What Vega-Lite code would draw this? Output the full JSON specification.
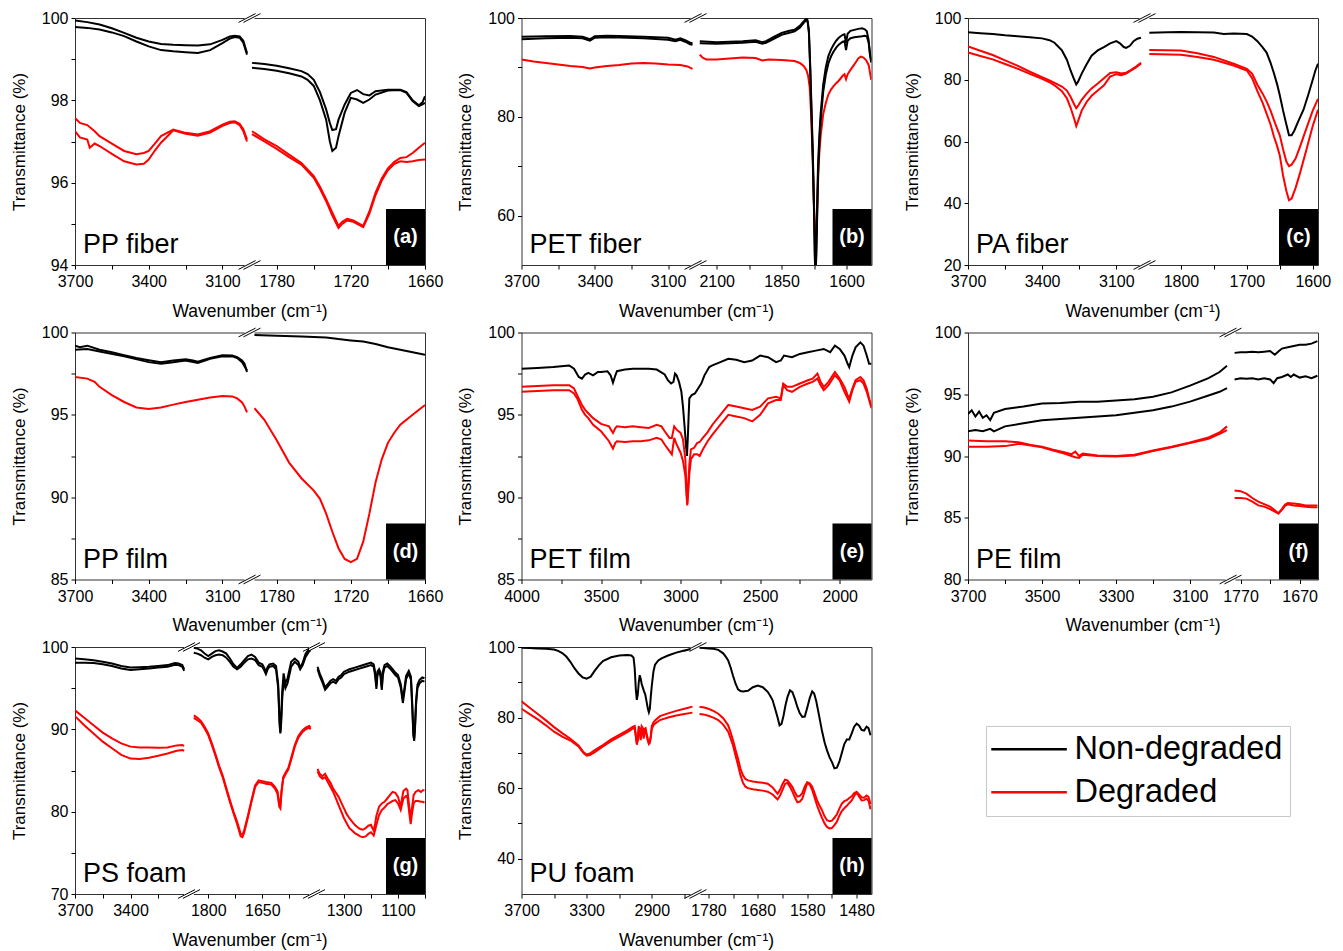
{
"$schema":"https://vega.github.io/schema/vega-lite/v6.json",
"padding":{"left":9,"top":9,"right":0,"bottom":0},
"config":{
 "font":"Liberation Sans",
 "view":{"stroke":"#333","strokeWidth":1},
 "axis":{"labelFont":"Liberation Sans","titleFont":"Liberation Sans","labelFontSize":16,"titleFontSize":17,"titleFontWeight":"normal","labelColor":"#000","titleColor":"#000","tickColor":"#000","tickSize":4,"tickWidth":1,"domain":false,"grid":false,"labelFlush":false,"labelOverlap":false,"labelPadding":3},
 "axisX":{"labelPadding":4.5},
 "axisY":{"titlePadding":13},
 "title":{"font":"Liberation Sans","fontSize":17.5,"fontWeight":"normal","color":"#000"},
 "text":{"font":"Liberation Sans","color":"#000"}
},
"resolve":{"scale":{"stroke":"independent"}},
"columns":3,
"spacing":{"row":67.5,"column":96.5},
"bounds":"flush",
"concat":[
{"width":350,"height":247,"title":{"text":"Wavenumber (cm⁻¹)","orient":"bottom","anchor":"middle","offset":13},
 "resolve":{"scale":{"x":"independent"},"axis":{"x":"independent"}},
 "layer":[
  {"layer":[
   {"data":{"name":"a1"},"mark":{"type":"line","strokeWidth":2,"clip":true},"encoding":{
     "x":{"field":"w","type":"quantitative","scale":{"domain":[3700,3000],"range":[0,172],"nice":false,"zero":false},"axis":{"orient":"bottom","title":null,"format":"d","values":[3700,3550,3400,3250,3100],"labelExpr":"(3700-datum.value)%300==0?datum.label:''"}},
     "y":{"field":"t","type":"quantitative","scale":{"domain":[94,100],"nice":false,"zero":false},"axis":{"title":"Transmittance (%)","format":"d","values":[94,95,96,97,98,99,100],"labelExpr":"datum.value%2==0?datum.label:''"}},
     "stroke":{"field":"c","type":"nominal","scale":{"domain":["N1","N2","D1","D2"],"range":["#000000","#000000","#ff0000","#ff0000"]},"legend":null}}},
   {"data":{"values":[{}]},"mark":{"type":"point","shape":"M-1,-0.6H1V0.6H-1Z","size":100,"filled":true,"fill":"#fff","strokeWidth":0,"opacity":1,"xOffset":2.5},"encoding":{"x":{"datum":3000},"y":{"datum":100}}},
   {"data":{"values":[{}]},"mark":{"type":"point","shape":"M-1,-0.6H1V0.6H-1Z","size":100,"filled":true,"fill":"#fff","strokeWidth":0,"opacity":1,"xOffset":2.5},"encoding":{"x":{"datum":3000},"y":{"datum":94}}},
   {"data":{"values":[{}]},"mark":{"type":"point","shape":"M-1,0.4L0.55,-0.4M-0.55,0.4L1,-0.4","size":484,"filled":false,"stroke":"#000","strokeWidth":1,"opacity":1,"xOffset":2.5},"encoding":{"x":{"datum":3000},"y":{"datum":100}}},
   {"data":{"values":[{}]},"mark":{"type":"point","shape":"M-1,0.4L0.55,-0.4M-0.55,0.4L1,-0.4","size":484,"filled":false,"stroke":"#000","strokeWidth":1,"opacity":1,"xOffset":2.5},"encoding":{"x":{"datum":3000},"y":{"datum":94}}},
   {"data":{"values":[{}]},"mark":{"type":"text","text":"PP fiber","align":"left","baseline":"alphabetic","dx":8,"dy":-12,"fontSize":27},"encoding":{"x":{"datum":3700},"y":{"datum":94}}}
  ]},
  {"layer":[
   {"data":{"name":"a2"},"mark":{"type":"line","strokeWidth":2,"clip":true},"encoding":{
     "x":{"field":"w","type":"quantitative","scale":{"domain":[1800,1660],"range":[177,350],"nice":false,"zero":false},"axis":{"orient":"bottom","title":null,"format":"d","values":[1780,1750,1720,1690,1660],"labelExpr":"(1780-datum.value)%60==0?datum.label:''"}},
     "y":{"field":"t","type":"quantitative","scale":{"domain":[94,100],"nice":false,"zero":false},"axis":{"title":"Transmittance (%)","format":"d","values":[94,95,96,97,98,99,100],"labelExpr":"datum.value%2==0?datum.label:''"}},
     "stroke":{"field":"c","type":"nominal","scale":{"domain":["N1","N2","D1","D2"],"range":["#000000","#000000","#ff0000","#ff0000"]},"legend":null}}},
   {"data":{"values":[{}]},"mark":{"type":"point","shape":"M0,0H-1.393V-2H0Z","size":3136,"filled":true,"fill":"#000","strokeWidth":0,"opacity":1},"encoding":{"x":{"datum":1660},"y":{"datum":94}}},
   {"data":{"values":[{}]},"mark":{"type":"text","text":"(a)","align":"center","baseline":"middle","dx":-19.5,"dy":-28,"fill":"#fff","fontSize":20,"fontWeight":"bold"},"encoding":{"x":{"datum":1660},"y":{"datum":94}}}
  ]}
 ]},
{"width":350,"height":247,"title":{"text":"Wavenumber (cm⁻¹)","orient":"bottom","anchor":"middle","offset":13},
 "resolve":{"scale":{"x":"independent"},"axis":{"x":"independent"}},
 "layer":[
  {"layer":[
   {"data":{"name":"b1"},"mark":{"type":"line","strokeWidth":2,"clip":true},"encoding":{
     "x":{"field":"w","type":"quantitative","scale":{"domain":[3700,3000],"range":[0,171],"nice":false,"zero":false},"axis":{"orient":"bottom","title":null,"format":"d","values":[3700,3550,3400,3250,3100],"labelExpr":"(3700-datum.value)%300==0?datum.label:''"}},
     "y":{"field":"t","type":"quantitative","scale":{"domain":[50,100],"nice":false,"zero":false},"axis":{"title":"Transmittance (%)","format":"d","values":[60,70,80,90,100],"labelExpr":"datum.value%20==0?datum.label:''"}},
     "stroke":{"field":"c","type":"nominal","scale":{"domain":["N1","N2","D1","D2"],"range":["#000000","#000000","#ff0000","#ff0000"]},"legend":null}}},
   {"data":{"values":[{}]},"mark":{"type":"point","shape":"M-1,-0.6H1V0.6H-1Z","size":100,"filled":true,"fill":"#fff","strokeWidth":0,"opacity":1,"xOffset":3},"encoding":{"x":{"datum":3000},"y":{"datum":100}}},
   {"data":{"values":[{}]},"mark":{"type":"point","shape":"M-1,-0.6H1V0.6H-1Z","size":100,"filled":true,"fill":"#fff","strokeWidth":0,"opacity":1,"xOffset":3},"encoding":{"x":{"datum":3000},"y":{"datum":50}}},
   {"data":{"values":[{}]},"mark":{"type":"point","shape":"M-1,0.4L0.55,-0.4M-0.55,0.4L1,-0.4","size":484,"filled":false,"stroke":"#000","strokeWidth":1,"opacity":1,"xOffset":3},"encoding":{"x":{"datum":3000},"y":{"datum":100}}},
   {"data":{"values":[{}]},"mark":{"type":"point","shape":"M-1,0.4L0.55,-0.4M-0.55,0.4L1,-0.4","size":484,"filled":false,"stroke":"#000","strokeWidth":1,"opacity":1,"xOffset":3},"encoding":{"x":{"datum":3000},"y":{"datum":50}}},
   {"data":{"values":[{}]},"mark":{"type":"text","text":"PET fiber","align":"left","baseline":"alphabetic","dx":8,"dy":-12,"fontSize":27},"encoding":{"x":{"datum":3700},"y":{"datum":50}}}
  ]},
  {"layer":[
   {"data":{"name":"b2"},"mark":{"type":"line","strokeWidth":2,"clip":true},"encoding":{
     "x":{"field":"w","type":"quantitative","scale":{"domain":[2170,1504],"range":[177,350],"nice":false,"zero":false},"axis":{"orient":"bottom","title":null,"format":"d","values":[2100,1975,1850,1725,1600],"labelExpr":"(2100-datum.value)%250==0?datum.label:''"}},
     "y":{"field":"t","type":"quantitative","scale":{"domain":[50,100],"nice":false,"zero":false},"axis":{"title":"Transmittance (%)","format":"d","values":[60,70,80,90,100],"labelExpr":"datum.value%20==0?datum.label:''"}},
     "stroke":{"field":"c","type":"nominal","scale":{"domain":["N1","N2","D1","D2"],"range":["#000000","#000000","#ff0000","#ff0000"]},"legend":null}}},
   {"data":{"values":[{}]},"mark":{"type":"point","shape":"M0,0H-1.393V-2H0Z","size":3136,"filled":true,"fill":"#000","strokeWidth":0,"opacity":1},"encoding":{"x":{"datum":1504},"y":{"datum":50}}},
   {"data":{"values":[{}]},"mark":{"type":"text","text":"(b)","align":"center","baseline":"middle","dx":-19.5,"dy":-28,"fill":"#fff","fontSize":20,"fontWeight":"bold"},"encoding":{"x":{"datum":1504},"y":{"datum":50}}}
  ]}
 ]},
{"width":350,"height":247,"title":{"text":"Wavenumber (cm⁻¹)","orient":"bottom","anchor":"middle","offset":13},
 "resolve":{"scale":{"x":"independent"},"axis":{"x":"independent"}},
 "layer":[
  {"layer":[
   {"data":{"name":"c1"},"mark":{"type":"line","strokeWidth":2,"clip":true},"encoding":{
     "x":{"field":"w","type":"quantitative","scale":{"domain":[3700,3000],"range":[0,173],"nice":false,"zero":false},"axis":{"orient":"bottom","title":null,"format":"d","values":[3700,3550,3400,3250,3100],"labelExpr":"(3700-datum.value)%300==0?datum.label:''"}},
     "y":{"field":"t","type":"quantitative","scale":{"domain":[20,100],"nice":false,"zero":false},"axis":{"title":"Transmittance (%)","format":"d","values":[20,30,40,50,60,70,80,90,100],"labelExpr":"datum.value%20==0?datum.label:''"}},
     "stroke":{"field":"c","type":"nominal","scale":{"domain":["N1","N2","D1","D2"],"range":["#000000","#000000","#ff0000","#ff0000"]},"legend":null}}},
   {"data":{"values":[{}]},"mark":{"type":"point","shape":"M-1,-0.6H1V0.6H-1Z","size":100,"filled":true,"fill":"#fff","strokeWidth":0,"opacity":1,"xOffset":3.5},"encoding":{"x":{"datum":3000},"y":{"datum":100}}},
   {"data":{"values":[{}]},"mark":{"type":"point","shape":"M-1,-0.6H1V0.6H-1Z","size":100,"filled":true,"fill":"#fff","strokeWidth":0,"opacity":1,"xOffset":3.5},"encoding":{"x":{"datum":3000},"y":{"datum":20}}},
   {"data":{"values":[{}]},"mark":{"type":"point","shape":"M-1,0.4L0.55,-0.4M-0.55,0.4L1,-0.4","size":484,"filled":false,"stroke":"#000","strokeWidth":1,"opacity":1,"xOffset":3.5},"encoding":{"x":{"datum":3000},"y":{"datum":100}}},
   {"data":{"values":[{}]},"mark":{"type":"point","shape":"M-1,0.4L0.55,-0.4M-0.55,0.4L1,-0.4","size":484,"filled":false,"stroke":"#000","strokeWidth":1,"opacity":1,"xOffset":3.5},"encoding":{"x":{"datum":3000},"y":{"datum":20}}},
   {"data":{"values":[{}]},"mark":{"type":"text","text":"PA fiber","align":"left","baseline":"alphabetic","dx":8,"dy":-12,"fontSize":27},"encoding":{"x":{"datum":3700},"y":{"datum":20}}}
  ]},
  {"layer":[
   {"data":{"name":"c2"},"mark":{"type":"line","strokeWidth":2,"clip":true},"encoding":{
     "x":{"field":"w","type":"quantitative","scale":{"domain":[1850,1592],"range":[180,350],"nice":false,"zero":false},"axis":{"orient":"bottom","title":null,"format":"d","values":[1800,1750,1700,1650,1600],"labelExpr":"datum.value%100==0?datum.label:''"}},
     "y":{"field":"t","type":"quantitative","scale":{"domain":[20,100],"nice":false,"zero":false},"axis":{"title":"Transmittance (%)","format":"d","values":[20,30,40,50,60,70,80,90,100],"labelExpr":"datum.value%20==0?datum.label:''"}},
     "stroke":{"field":"c","type":"nominal","scale":{"domain":["N1","N2","D1","D2"],"range":["#000000","#000000","#ff0000","#ff0000"]},"legend":null}}},
   {"data":{"values":[{}]},"mark":{"type":"point","shape":"M0,0H-1.393V-2H0Z","size":3136,"filled":true,"fill":"#000","strokeWidth":0,"opacity":1},"encoding":{"x":{"datum":1592},"y":{"datum":20}}},
   {"data":{"values":[{}]},"mark":{"type":"text","text":"(c)","align":"center","baseline":"middle","dx":-19.5,"dy":-28,"fill":"#fff","fontSize":20,"fontWeight":"bold"},"encoding":{"x":{"datum":1592},"y":{"datum":20}}}
  ]}
 ]},
{"width":350,"height":247,"title":{"text":"Wavenumber (cm⁻¹)","orient":"bottom","anchor":"middle","offset":13},
 "resolve":{"scale":{"x":"independent"},"axis":{"x":"independent"}},
 "layer":[
  {"layer":[
   {"data":{"name":"d1"},"mark":{"type":"line","strokeWidth":2,"clip":true},"encoding":{
     "x":{"field":"w","type":"quantitative","scale":{"domain":[3700,3000],"range":[0,172],"nice":false,"zero":false},"axis":{"orient":"bottom","title":null,"format":"d","values":[3700,3550,3400,3250,3100],"labelExpr":"(3700-datum.value)%300==0?datum.label:''"}},
     "y":{"field":"t","type":"quantitative","scale":{"domain":[85,100],"nice":false,"zero":false},"axis":{"title":"Transmittance (%)","format":"d","values":[85,87.5,90,92.5,95,97.5,100],"labelExpr":"datum.value%5==0?datum.label:''"}},
     "stroke":{"field":"c","type":"nominal","scale":{"domain":["N1","N2","D1","D2"],"range":["#000000","#000000","#ff0000","#ff0000"]},"legend":null}}},
   {"data":{"values":[{}]},"mark":{"type":"point","shape":"M-1,-0.6H1V0.6H-1Z","size":100,"filled":true,"fill":"#fff","strokeWidth":0,"opacity":1,"xOffset":2.5},"encoding":{"x":{"datum":3000},"y":{"datum":100}}},
   {"data":{"values":[{}]},"mark":{"type":"point","shape":"M-1,-0.6H1V0.6H-1Z","size":100,"filled":true,"fill":"#fff","strokeWidth":0,"opacity":1,"xOffset":2.5},"encoding":{"x":{"datum":3000},"y":{"datum":85}}},
   {"data":{"values":[{}]},"mark":{"type":"point","shape":"M-1,0.4L0.55,-0.4M-0.55,0.4L1,-0.4","size":484,"filled":false,"stroke":"#000","strokeWidth":1,"opacity":1,"xOffset":2.5},"encoding":{"x":{"datum":3000},"y":{"datum":100}}},
   {"data":{"values":[{}]},"mark":{"type":"point","shape":"M-1,0.4L0.55,-0.4M-0.55,0.4L1,-0.4","size":484,"filled":false,"stroke":"#000","strokeWidth":1,"opacity":1,"xOffset":2.5},"encoding":{"x":{"datum":3000},"y":{"datum":85}}},
   {"data":{"values":[{}]},"mark":{"type":"text","text":"PP film","align":"left","baseline":"alphabetic","dx":8,"dy":-12,"fontSize":27},"encoding":{"x":{"datum":3700},"y":{"datum":85}}}
  ]},
  {"layer":[
   {"data":{"name":"d2"},"mark":{"type":"line","strokeWidth":2,"clip":true},"encoding":{
     "x":{"field":"w","type":"quantitative","scale":{"domain":[1800,1660],"range":[177,350],"nice":false,"zero":false},"axis":{"orient":"bottom","title":null,"format":"d","values":[1780,1750,1720,1690,1660],"labelExpr":"(1780-datum.value)%60==0?datum.label:''"}},
     "y":{"field":"t","type":"quantitative","scale":{"domain":[85,100],"nice":false,"zero":false},"axis":{"title":"Transmittance (%)","format":"d","values":[85,87.5,90,92.5,95,97.5,100],"labelExpr":"datum.value%5==0?datum.label:''"}},
     "stroke":{"field":"c","type":"nominal","scale":{"domain":["N1","N2","D1","D2"],"range":["#000000","#000000","#ff0000","#ff0000"]},"legend":null}}},
   {"data":{"values":[{}]},"mark":{"type":"point","shape":"M0,0H-1.393V-2H0Z","size":3136,"filled":true,"fill":"#000","strokeWidth":0,"opacity":1},"encoding":{"x":{"datum":1660},"y":{"datum":85}}},
   {"data":{"values":[{}]},"mark":{"type":"text","text":"(d)","align":"center","baseline":"middle","dx":-19.5,"dy":-28,"fill":"#fff","fontSize":20,"fontWeight":"bold"},"encoding":{"x":{"datum":1660},"y":{"datum":85}}}
  ]}
 ]},
{"width":350,"height":247,"title":{"text":"Wavenumber (cm⁻¹)","orient":"bottom","anchor":"middle","offset":13},
 "layer":[
   {"data":{"name":"e"},"mark":{"type":"line","strokeWidth":2,"clip":true},"encoding":{
     "x":{"field":"w","type":"quantitative","scale":{"domain":[4000,1800],"nice":false,"zero":false},"axis":{"orient":"bottom","title":null,"format":"d","values":[4000,3750,3500,3250,3000,2750,2500,2250,2000],"labelExpr":"datum.value%500==0?datum.label:''"}},
     "y":{"field":"t","type":"quantitative","scale":{"domain":[85,100],"nice":false,"zero":false},"axis":{"title":"Transmittance (%)","format":"d","values":[85,87.5,90,92.5,95,97.5,100],"labelExpr":"datum.value%5==0?datum.label:''"}},
     "stroke":{"field":"c","type":"nominal","scale":{"domain":["N1","N2","D1","D2"],"range":["#000000","#000000","#ff0000","#ff0000"]},"legend":null}}},
   {"data":{"values":[{}]},"mark":{"type":"text","text":"PET film","align":"left","baseline":"alphabetic","dx":8,"dy":-12,"fontSize":27},"encoding":{"x":{"datum":4000},"y":{"datum":85}}},
   {"data":{"values":[{}]},"mark":{"type":"point","shape":"M0,0H-1.393V-2H0Z","size":3136,"filled":true,"fill":"#000","strokeWidth":0,"opacity":1},"encoding":{"x":{"datum":1800},"y":{"datum":85}}},
   {"data":{"values":[{}]},"mark":{"type":"text","text":"(e)","align":"center","baseline":"middle","dx":-19.5,"dy":-28,"fill":"#fff","fontSize":20,"fontWeight":"bold"},"encoding":{"x":{"datum":1800},"y":{"datum":85}}}
 ]},
{"width":350,"height":247,"title":{"text":"Wavenumber (cm⁻¹)","orient":"bottom","anchor":"middle","offset":13},
 "resolve":{"scale":{"x":"independent"},"axis":{"x":"independent"}},
 "layer":[
  {"layer":[
   {"data":{"name":"f1"},"mark":{"type":"line","strokeWidth":2,"clip":true},"encoding":{
     "x":{"field":"w","type":"quantitative","scale":{"domain":[3700,3000],"range":[0,259],"nice":false,"zero":false},"axis":{"orient":"bottom","title":null,"format":"d","values":[3700,3600,3500,3400,3300,3200,3100],"labelExpr":"(3700-datum.value)%200==0?datum.label:''"}},
     "y":{"field":"t","type":"quantitative","scale":{"domain":[80,100],"nice":false,"zero":false},"axis":{"title":"Transmittance (%)","format":"d","values":[80,82.5,85,87.5,90,92.5,95,97.5,100],"labelExpr":"datum.value%5==0?datum.label:''"}},
     "stroke":{"field":"c","type":"nominal","scale":{"domain":["N1","N2","D1","D2"],"range":["#000000","#000000","#ff0000","#ff0000"]},"legend":null}}},
   {"data":{"values":[{}]},"mark":{"type":"point","shape":"M-1,-0.6H1V0.6H-1Z","size":100,"filled":true,"fill":"#fff","strokeWidth":0,"opacity":1,"xOffset":3.5},"encoding":{"x":{"datum":3000},"y":{"datum":100}}},
   {"data":{"values":[{}]},"mark":{"type":"point","shape":"M-1,-0.6H1V0.6H-1Z","size":100,"filled":true,"fill":"#fff","strokeWidth":0,"opacity":1,"xOffset":3.5},"encoding":{"x":{"datum":3000},"y":{"datum":80}}},
   {"data":{"values":[{}]},"mark":{"type":"point","shape":"M-1,0.4L0.55,-0.4M-0.55,0.4L1,-0.4","size":484,"filled":false,"stroke":"#000","strokeWidth":1,"opacity":1,"xOffset":3.5},"encoding":{"x":{"datum":3000},"y":{"datum":100}}},
   {"data":{"values":[{}]},"mark":{"type":"point","shape":"M-1,0.4L0.55,-0.4M-0.55,0.4L1,-0.4","size":484,"filled":false,"stroke":"#000","strokeWidth":1,"opacity":1,"xOffset":3.5},"encoding":{"x":{"datum":3000},"y":{"datum":80}}},
   {"data":{"values":[{}]},"mark":{"type":"text","text":"PE film","align":"left","baseline":"alphabetic","dx":8,"dy":-12,"fontSize":27},"encoding":{"x":{"datum":3700},"y":{"datum":80}}}
  ]},
  {"layer":[
   {"data":{"name":"f2"},"mark":{"type":"line","strokeWidth":2,"clip":true},"encoding":{
     "x":{"field":"w","type":"quantitative","scale":{"domain":[1781,1639],"range":[266,350],"nice":false,"zero":false},"axis":{"orient":"bottom","title":null,"format":"d","values":[1770,1720,1670],"labelExpr":"(1770-datum.value)%100==0?datum.label:''"}},
     "y":{"field":"t","type":"quantitative","scale":{"domain":[80,100],"nice":false,"zero":false},"axis":{"title":"Transmittance (%)","format":"d","values":[80,82.5,85,87.5,90,92.5,95,97.5,100],"labelExpr":"datum.value%5==0?datum.label:''"}},
     "stroke":{"field":"c","type":"nominal","scale":{"domain":["N1","N2","D1","D2"],"range":["#000000","#000000","#ff0000","#ff0000"]},"legend":null}}},
   {"data":{"values":[{}]},"mark":{"type":"point","shape":"M0,0H-1.393V-2H0Z","size":3136,"filled":true,"fill":"#000","strokeWidth":0,"opacity":1},"encoding":{"x":{"datum":1639},"y":{"datum":80}}},
   {"data":{"values":[{}]},"mark":{"type":"text","text":"(f)","align":"center","baseline":"middle","dx":-19.5,"dy":-28,"fill":"#fff","fontSize":20,"fontWeight":"bold"},"encoding":{"x":{"datum":1639},"y":{"datum":80}}}
  ]}
 ]},
{"width":350,"height":247,"title":{"text":"Wavenumber (cm⁻¹)","orient":"bottom","anchor":"middle","offset":13},
 "resolve":{"scale":{"x":"independent"},"axis":{"x":"independent"}},
 "layer":[
  {"layer":[
   {"data":{"name":"g1"},"mark":{"type":"line","strokeWidth":2,"clip":true},"encoding":{
     "x":{"field":"w","type":"quantitative","scale":{"domain":[3700,3100],"range":[0,111],"nice":false,"zero":false},"axis":{"orient":"bottom","title":null,"format":"d","values":[3700,3550,3400,3250],"labelExpr":"(3700-datum.value)%300==0?datum.label:''"}},
     "y":{"field":"t","type":"quantitative","scale":{"domain":[70,100],"nice":false,"zero":false},"axis":{"title":"Transmittance (%)","format":"d","values":[70,75,80,85,90,95,100],"labelExpr":"datum.value%10==0?datum.label:''"}},
     "stroke":{"field":"c","type":"nominal","scale":{"domain":["N1","N2","D1","D2"],"range":["#000000","#000000","#ff0000","#ff0000"]},"legend":null}}},
   {"data":{"values":[{}]},"mark":{"type":"point","shape":"M-1,-0.6H1V0.6H-1Z","size":100,"filled":true,"fill":"#fff","strokeWidth":0,"opacity":1,"xOffset":3},"encoding":{"x":{"datum":3100},"y":{"datum":100}}},
   {"data":{"values":[{}]},"mark":{"type":"point","shape":"M-1,-0.6H1V0.6H-1Z","size":100,"filled":true,"fill":"#fff","strokeWidth":0,"opacity":1,"xOffset":3},"encoding":{"x":{"datum":3100},"y":{"datum":70}}},
   {"data":{"values":[{}]},"mark":{"type":"point","shape":"M-1,0.4L0.55,-0.4M-0.55,0.4L1,-0.4","size":484,"filled":false,"stroke":"#000","strokeWidth":1,"opacity":1,"xOffset":3},"encoding":{"x":{"datum":3100},"y":{"datum":100}}},
   {"data":{"values":[{}]},"mark":{"type":"point","shape":"M-1,0.4L0.55,-0.4M-0.55,0.4L1,-0.4","size":484,"filled":false,"stroke":"#000","strokeWidth":1,"opacity":1,"xOffset":3},"encoding":{"x":{"datum":3100},"y":{"datum":70}}},
   {"data":{"values":[{}]},"mark":{"type":"text","text":"PS foam","align":"left","baseline":"alphabetic","dx":8,"dy":-12,"fontSize":27},"encoding":{"x":{"datum":3700},"y":{"datum":70}}}
  ]},
  {"layer":[
   {"data":{"name":"g2"},"mark":{"type":"line","strokeWidth":2,"clip":true},"encoding":{
     "x":{"field":"w","type":"quantitative","scale":{"domain":[1845,1515],"range":[117,236],"nice":false,"zero":false},"axis":{"orient":"bottom","title":null,"format":"d","values":[1800,1725,1650,1575],"labelExpr":"(1800-datum.value)%150==0?datum.label:''"}},
     "y":{"field":"t","type":"quantitative","scale":{"domain":[70,100],"nice":false,"zero":false},"axis":{"title":"Transmittance (%)","format":"d","values":[70,75,80,85,90,95,100],"labelExpr":"datum.value%10==0?datum.label:''"}},
     "stroke":{"field":"c","type":"nominal","scale":{"domain":["N1","N2","D1","D2"],"range":["#000000","#000000","#ff0000","#ff0000"]},"legend":null}}},
   {"data":{"values":[{}]},"mark":{"type":"point","shape":"M-1,-0.6H1V0.6H-1Z","size":100,"filled":true,"fill":"#fff","strokeWidth":0,"opacity":1,"xOffset":3},"encoding":{"x":{"datum":1515},"y":{"datum":100}}},
   {"data":{"values":[{}]},"mark":{"type":"point","shape":"M-1,-0.6H1V0.6H-1Z","size":100,"filled":true,"fill":"#fff","strokeWidth":0,"opacity":1,"xOffset":3},"encoding":{"x":{"datum":1515},"y":{"datum":70}}},
   {"data":{"values":[{}]},"mark":{"type":"point","shape":"M-1,0.4L0.55,-0.4M-0.55,0.4L1,-0.4","size":484,"filled":false,"stroke":"#000","strokeWidth":1,"opacity":1,"xOffset":3},"encoding":{"x":{"datum":1515},"y":{"datum":100}}},
   {"data":{"values":[{}]},"mark":{"type":"point","shape":"M-1,0.4L0.55,-0.4M-0.55,0.4L1,-0.4","size":484,"filled":false,"stroke":"#000","strokeWidth":1,"opacity":1,"xOffset":3},"encoding":{"x":{"datum":1515},"y":{"datum":70}}}
  ]},
  {"layer":[
   {"data":{"name":"g3"},"mark":{"type":"line","strokeWidth":2,"clip":true},"encoding":{
     "x":{"field":"w","type":"quantitative","scale":{"domain":[1400,1000],"range":[242,350],"nice":false,"zero":false},"axis":{"orient":"bottom","title":null,"format":"d","values":[1300,1200,1100,1000],"labelExpr":"(1300-datum.value)%200==0?datum.label:''"}},
     "y":{"field":"t","type":"quantitative","scale":{"domain":[70,100],"nice":false,"zero":false},"axis":{"title":"Transmittance (%)","format":"d","values":[70,75,80,85,90,95,100],"labelExpr":"datum.value%10==0?datum.label:''"}},
     "stroke":{"field":"c","type":"nominal","scale":{"domain":["N1","N2","D1","D2"],"range":["#000000","#000000","#ff0000","#ff0000"]},"legend":null}}},
   {"data":{"values":[{}]},"mark":{"type":"point","shape":"M0,0H-1.393V-2H0Z","size":3136,"filled":true,"fill":"#000","strokeWidth":0,"opacity":1},"encoding":{"x":{"datum":1000},"y":{"datum":70}}},
   {"data":{"values":[{}]},"mark":{"type":"text","text":"(g)","align":"center","baseline":"middle","dx":-19.5,"dy":-28,"fill":"#fff","fontSize":20,"fontWeight":"bold"},"encoding":{"x":{"datum":1000},"y":{"datum":70}}}
  ]}
 ]},
{"width":350,"height":247,"title":{"text":"Wavenumber (cm⁻¹)","orient":"bottom","anchor":"middle","offset":13},
 "resolve":{"scale":{"x":"independent"},"axis":{"x":"independent"}},
 "layer":[
  {"layer":[
   {"data":{"name":"h1"},"mark":{"type":"line","strokeWidth":2,"clip":true},"encoding":{
     "x":{"field":"w","type":"quantitative","scale":{"domain":[3700,2650],"range":[0,171],"nice":false,"zero":false},"axis":{"orient":"bottom","title":null,"format":"d","values":[3700,3500,3300,3100,2900,2700],"labelExpr":"(3700-datum.value)%400==0?datum.label:''"}},
     "y":{"field":"t","type":"quantitative","scale":{"domain":[30,100],"nice":false,"zero":false},"axis":{"title":"Transmittance (%)","format":"d","values":[40,50,60,70,80,90,100],"labelExpr":"datum.value%20==0?datum.label:''"}},
     "stroke":{"field":"c","type":"nominal","scale":{"domain":["N1","N2","D1","D2"],"range":["#000000","#000000","#ff0000","#ff0000"]},"legend":null}}},
   {"data":{"values":[{}]},"mark":{"type":"point","shape":"M-1,-0.6H1V0.6H-1Z","size":100,"filled":true,"fill":"#fff","strokeWidth":0,"opacity":1,"xOffset":3},"encoding":{"x":{"datum":2650},"y":{"datum":100}}},
   {"data":{"values":[{}]},"mark":{"type":"point","shape":"M-1,-0.6H1V0.6H-1Z","size":100,"filled":true,"fill":"#fff","strokeWidth":0,"opacity":1,"xOffset":3},"encoding":{"x":{"datum":2650},"y":{"datum":30}}},
   {"data":{"values":[{}]},"mark":{"type":"point","shape":"M-1,0.4L0.55,-0.4M-0.55,0.4L1,-0.4","size":484,"filled":false,"stroke":"#000","strokeWidth":1,"opacity":1,"xOffset":3},"encoding":{"x":{"datum":2650},"y":{"datum":100}}},
   {"data":{"values":[{}]},"mark":{"type":"point","shape":"M-1,0.4L0.55,-0.4M-0.55,0.4L1,-0.4","size":484,"filled":false,"stroke":"#000","strokeWidth":1,"opacity":1,"xOffset":3},"encoding":{"x":{"datum":2650},"y":{"datum":30}}},
   {"data":{"values":[{}]},"mark":{"type":"text","text":"PU foam","align":"left","baseline":"alphabetic","dx":8,"dy":-12,"fontSize":27},"encoding":{"x":{"datum":3700},"y":{"datum":30}}}
  ]},
  {"layer":[
   {"data":{"name":"h2"},"mark":{"type":"line","strokeWidth":2,"clip":true},"encoding":{
     "x":{"field":"w","type":"quantitative","scale":{"domain":[1800,1450],"range":[177,350],"nice":false,"zero":false},"axis":{"orient":"bottom","title":null,"format":"d","values":[1780,1730,1680,1630,1580,1530,1480],"labelExpr":"(1780-datum.value)%100==0?datum.label:''"}},
     "y":{"field":"t","type":"quantitative","scale":{"domain":[30,100],"nice":false,"zero":false},"axis":{"title":"Transmittance (%)","format":"d","values":[40,50,60,70,80,90,100],"labelExpr":"datum.value%20==0?datum.label:''"}},
     "stroke":{"field":"c","type":"nominal","scale":{"domain":["N1","N2","D1","D2"],"range":["#000000","#000000","#ff0000","#ff0000"]},"legend":null}}},
   {"data":{"values":[{}]},"mark":{"type":"point","shape":"M0,0H-1.393V-2H0Z","size":3136,"filled":true,"fill":"#000","strokeWidth":0,"opacity":1},"encoding":{"x":{"datum":1450},"y":{"datum":30}}},
   {"data":{"values":[{}]},"mark":{"type":"text","text":"(h)","align":"center","baseline":"middle","dx":-19.5,"dy":-28,"fill":"#fff","fontSize":20,"fontWeight":"bold"},"encoding":{"x":{"datum":1450},"y":{"datum":30}}}
  ]}
 ]},
{"width":350,"height":187,
 "view":{"stroke":null},
 "data":{"values":[{"k":"Non-degraded"},{"k":"Degraded"}]},
 "mark":{"type":"line","strokeWidth":2.5},
 "encoding":{
   "x":{"datum":0,"axis":null},
   "y":{"datum":0,"axis":null},
   "stroke":{"field":"k","type":"nominal","scale":{"domain":["Non-degraded","Degraded"],"range":["#000000","#ff0000"]},
     "legend":{"orient":"bottom-left","offset":18,"title":null,"labelFontSize":32.5,"labelFont":"Liberation Sans","labelColor":"#000","symbolType":"M-2,0H6.4","symbolSize":324,"symbolStrokeWidth":2.5,"labelOffset":49,"rowPadding":10,"padding":7,"strokeColor":"#c8c8c8","labelLimit":0}}
 }}
],
"datasets":{
"a1":[
{"c":"N1","w":3700,"t":99.94},{"c":"N1","w":3650,"t":99.9},{"c":"N1","w":3600,"t":99.84},{"c":"N1","w":3550,"t":99.75},{"c":"N1","w":3500,"t":99.64},{"c":"N1","w":3450,"t":99.52},{"c":"N1","w":3400,"t":99.43},{"c":"N1","w":3350,"t":99.37},{"c":"N1","w":3300,"t":99.35},{"c":"N1","w":3250,"t":99.34},{"c":"N1","w":3200,"t":99.33},{"c":"N1","w":3150,"t":99.36},{"c":"N1","w":3100,"t":99.47},{"c":"N1","w":3070,"t":99.55},{"c":"N1","w":3050,"t":99.57},{"c":"N1","w":3030,"t":99.55},{"c":"N1","w":3015,"t":99.45},{"c":"N1","w":3000,"t":99.15},
{"c":"N2","w":3700,"t":99.78},{"c":"N2","w":3650,"t":99.76},{"c":"N2","w":3600,"t":99.72},{"c":"N2","w":3550,"t":99.65},{"c":"N2","w":3500,"t":99.56},{"c":"N2","w":3450,"t":99.43},{"c":"N2","w":3400,"t":99.31},{"c":"N2","w":3350,"t":99.22},{"c":"N2","w":3300,"t":99.19},{"c":"N2","w":3250,"t":99.17},{"c":"N2","w":3200,"t":99.15},{"c":"N2","w":3150,"t":99.22},{"c":"N2","w":3100,"t":99.39},{"c":"N2","w":3070,"t":99.5},{"c":"N2","w":3050,"t":99.54},{"c":"N2","w":3030,"t":99.52},{"c":"N2","w":3015,"t":99.4},{"c":"N2","w":3000,"t":99.11},
{"c":"D1","w":3700,"t":97.57},{"c":"D1","w":3680,"t":97.45},{"c":"D1","w":3650,"t":97.4},{"c":"D1","w":3620,"t":97.25},{"c":"D1","w":3600,"t":97.13},{"c":"D1","w":3550,"t":96.95},{"c":"D1","w":3500,"t":96.77},{"c":"D1","w":3450,"t":96.69},{"c":"D1","w":3420,"t":96.72},{"c":"D1","w":3400,"t":96.77},{"c":"D1","w":3375,"t":96.95},{"c":"D1","w":3350,"t":97.13},{"c":"D1","w":3300,"t":97.29},{"c":"D1","w":3250,"t":97.21},{"c":"D1","w":3200,"t":97.17},{"c":"D1","w":3150,"t":97.25},{"c":"D1","w":3100,"t":97.41},{"c":"D1","w":3070,"t":97.48},{"c":"D1","w":3050,"t":97.49},{"c":"D1","w":3030,"t":97.43},{"c":"D1","w":3015,"t":97.3},{"c":"D1","w":3000,"t":97.05},
{"c":"D2","w":3700,"t":97.25},{"c":"D2","w":3680,"t":97.1},{"c":"D2","w":3650,"t":97.05},{"c":"D2","w":3640,"t":96.85},{"c":"D2","w":3620,"t":96.95},{"c":"D2","w":3600,"t":96.89},{"c":"D2","w":3550,"t":96.7},{"c":"D2","w":3500,"t":96.52},{"c":"D2","w":3450,"t":96.44},{"c":"D2","w":3420,"t":96.46},{"c":"D2","w":3400,"t":96.56},{"c":"D2","w":3375,"t":96.78},{"c":"D2","w":3350,"t":96.97},{"c":"D2","w":3300,"t":97.27},{"c":"D2","w":3250,"t":97.19},{"c":"D2","w":3200,"t":97.14},{"c":"D2","w":3150,"t":97.22},{"c":"D2","w":3100,"t":97.38},{"c":"D2","w":3070,"t":97.45},{"c":"D2","w":3050,"t":97.47},{"c":"D2","w":3030,"t":97.4},{"c":"D2","w":3015,"t":97.25},{"c":"D2","w":3000,"t":97.0}
],
"a2":[
{"c":"N1","w":1800,"t":98.91},{"c":"N1","w":1790,"t":98.88},{"c":"N1","w":1780,"t":98.84},{"c":"N1","w":1770,"t":98.78},{"c":"N1","w":1760,"t":98.71},{"c":"N1","w":1755,"t":98.64},{"c":"N1","w":1750,"t":98.5},{"c":"N1","w":1745,"t":98.2},{"c":"N1","w":1740,"t":97.78},{"c":"N1","w":1737,"t":97.45},{"c":"N1","w":1735,"t":97.28},{"c":"N1","w":1732,"t":97.3},{"c":"N1","w":1730,"t":97.53},{"c":"N1","w":1725,"t":97.9},{"c":"N1","w":1720,"t":98.18},{"c":"N1","w":1715,"t":98.25},{"c":"N1","w":1710,"t":98.15},{"c":"N1","w":1705,"t":98.12},{"c":"N1","w":1700,"t":98.22},{"c":"N1","w":1690,"t":98.26},{"c":"N1","w":1680,"t":98.26},{"c":"N1","w":1675,"t":98.2},{"c":"N1","w":1670,"t":98.0},{"c":"N1","w":1665,"t":97.88},{"c":"N1","w":1662,"t":97.95},{"c":"N1","w":1660,"t":98.1},
{"c":"N2","w":1800,"t":98.79},{"c":"N2","w":1790,"t":98.76},{"c":"N2","w":1780,"t":98.72},{"c":"N2","w":1770,"t":98.66},{"c":"N2","w":1760,"t":98.58},{"c":"N2","w":1755,"t":98.5},{"c":"N2","w":1750,"t":98.35},{"c":"N2","w":1745,"t":98.0},{"c":"N2","w":1740,"t":97.53},{"c":"N2","w":1737,"t":97.0},{"c":"N2","w":1735,"t":96.77},{"c":"N2","w":1732,"t":96.85},{"c":"N2","w":1730,"t":97.13},{"c":"N2","w":1725,"t":97.7},{"c":"N2","w":1720,"t":98.06},{"c":"N2","w":1715,"t":98.02},{"c":"N2","w":1710,"t":97.94},{"c":"N2","w":1705,"t":98.02},{"c":"N2","w":1700,"t":98.14},{"c":"N2","w":1690,"t":98.24},{"c":"N2","w":1680,"t":98.25},{"c":"N2","w":1675,"t":98.18},{"c":"N2","w":1670,"t":97.98},{"c":"N2","w":1665,"t":97.86},{"c":"N2","w":1662,"t":97.9},{"c":"N2","w":1660,"t":97.94},
{"c":"D1","w":1800,"t":97.25},{"c":"D1","w":1790,"t":97.05},{"c":"D1","w":1780,"t":96.89},{"c":"D1","w":1770,"t":96.68},{"c":"D1","w":1760,"t":96.48},{"c":"D1","w":1750,"t":96.16},{"c":"D1","w":1745,"t":95.9},{"c":"D1","w":1740,"t":95.6},{"c":"D1","w":1735,"t":95.27},{"c":"D1","w":1730,"t":94.95},{"c":"D1","w":1727,"t":95.05},{"c":"D1","w":1723,"t":95.12},{"c":"D1","w":1718,"t":95.08},{"c":"D1","w":1713,"t":95.0},{"c":"D1","w":1710,"t":94.95},{"c":"D1","w":1705,"t":95.3},{"c":"D1","w":1700,"t":95.76},{"c":"D1","w":1695,"t":96.1},{"c":"D1","w":1690,"t":96.35},{"c":"D1","w":1685,"t":96.5},{"c":"D1","w":1680,"t":96.6},{"c":"D1","w":1675,"t":96.62},{"c":"D1","w":1670,"t":96.72},{"c":"D1","w":1665,"t":96.85},{"c":"D1","w":1660,"t":96.97},
{"c":"D2","w":1800,"t":97.18},{"c":"D2","w":1790,"t":97.0},{"c":"D2","w":1780,"t":96.82},{"c":"D2","w":1770,"t":96.62},{"c":"D2","w":1760,"t":96.44},{"c":"D2","w":1750,"t":96.12},{"c":"D2","w":1745,"t":95.85},{"c":"D2","w":1740,"t":95.55},{"c":"D2","w":1735,"t":95.2},{"c":"D2","w":1730,"t":94.9},{"c":"D2","w":1727,"t":95.0},{"c":"D2","w":1723,"t":95.08},{"c":"D2","w":1718,"t":95.05},{"c":"D2","w":1713,"t":94.97},{"c":"D2","w":1710,"t":94.92},{"c":"D2","w":1705,"t":95.25},{"c":"D2","w":1700,"t":95.7},{"c":"D2","w":1695,"t":96.05},{"c":"D2","w":1690,"t":96.3},{"c":"D2","w":1685,"t":96.45},{"c":"D2","w":1680,"t":96.52},{"c":"D2","w":1675,"t":96.5},{"c":"D2","w":1670,"t":96.52},{"c":"D2","w":1665,"t":96.55},{"c":"D2","w":1660,"t":96.56}
],
"b1":[
{"c":"N1","w":3700,"t":96.2},{"c":"N1","w":3600,"t":96.3},{"c":"N1","w":3500,"t":96.35},{"c":"N1","w":3450,"t":96.2},{"c":"N1","w":3420,"t":95.7},{"c":"N1","w":3400,"t":96.3},{"c":"N1","w":3350,"t":96.4},{"c":"N1","w":3300,"t":96.35},{"c":"N1","w":3200,"t":96.2},{"c":"N1","w":3100,"t":96.0},{"c":"N1","w":3070,"t":95.6},{"c":"N1","w":3050,"t":95.9},{"c":"N1","w":3030,"t":95.5},{"c":"N1","w":3010,"t":95.0},{"c":"N1","w":3000,"t":94.9},
{"c":"N2","w":3700,"t":95.7},{"c":"N2","w":3600,"t":95.9},{"c":"N2","w":3500,"t":96.0},{"c":"N2","w":3450,"t":95.9},{"c":"N2","w":3420,"t":95.4},{"c":"N2","w":3400,"t":96.0},{"c":"N2","w":3350,"t":96.1},{"c":"N2","w":3300,"t":96.05},{"c":"N2","w":3200,"t":95.9},{"c":"N2","w":3100,"t":95.6},{"c":"N2","w":3070,"t":95.3},{"c":"N2","w":3050,"t":95.6},{"c":"N2","w":3030,"t":95.2},{"c":"N2","w":3010,"t":94.7},{"c":"N2","w":3000,"t":94.6},
{"c":"D1","w":3700,"t":91.6},{"c":"D1","w":3650,"t":91.2},{"c":"D1","w":3600,"t":90.9},{"c":"D1","w":3550,"t":90.6},{"c":"D1","w":3500,"t":90.3},{"c":"D1","w":3450,"t":90.1},{"c":"D1","w":3420,"t":89.8},{"c":"D1","w":3400,"t":90.0},{"c":"D1","w":3350,"t":90.3},{"c":"D1","w":3300,"t":90.5},{"c":"D1","w":3250,"t":90.8},{"c":"D1","w":3200,"t":90.9},{"c":"D1","w":3150,"t":90.8},{"c":"D1","w":3100,"t":90.6},{"c":"D1","w":3050,"t":90.5},{"c":"D1","w":3020,"t":90.2},{"c":"D1","w":3000,"t":89.7}
],
"b2":[
{"c":"D1","w":2165,"t":92.6},{"c":"D1","w":2155,"t":92.0},{"c":"D1","w":2140,"t":91.6},{"c":"D1","w":2100,"t":91.6},{"c":"D1","w":2050,"t":91.8},{"c":"D1","w":2000,"t":92.0},{"c":"D1","w":1950,"t":91.9},{"c":"D1","w":1925,"t":91.4},{"c":"D1","w":1900,"t":91.6},{"c":"D1","w":1850,"t":91.5},{"c":"D1","w":1800,"t":91.3},{"c":"D1","w":1780,"t":90.9},{"c":"D1","w":1765,"t":90.3},{"c":"D1","w":1755,"t":89.5},{"c":"D1","w":1748,"t":88.3},{"c":"D1","w":1742,"t":86},{"c":"D1","w":1737,"t":81},{"c":"D1","w":1732,"t":74},{"c":"D1","w":1727,"t":65},{"c":"D1","w":1723,"t":58},{"c":"D1","w":1720,"t":54.5},{"c":"D1","w":1717,"t":56},{"c":"D1","w":1713,"t":62},{"c":"D1","w":1709,"t":68},{"c":"D1","w":1705,"t":72.5},{"c":"D1","w":1700,"t":76},{"c":"D1","w":1690,"t":80.5},{"c":"D1","w":1680,"t":82.8},{"c":"D1","w":1670,"t":84.5},{"c":"D1","w":1660,"t":85.5},{"c":"D1","w":1650,"t":86.2},{"c":"D1","w":1640,"t":86.8},{"c":"D1","w":1630,"t":87.3},{"c":"D1","w":1615,"t":88.3},{"c":"D1","w":1608,"t":88.6},{"c":"D1","w":1602,"t":87.6},{"c":"D1","w":1596,"t":88.6},{"c":"D1","w":1585,"t":89.5},{"c":"D1","w":1570,"t":90.6},{"c":"D1","w":1555,"t":91.8},{"c":"D1","w":1545,"t":92.2},{"c":"D1","w":1535,"t":92.0},{"c":"D1","w":1525,"t":91.5},{"c":"D1","w":1515,"t":90.5},{"c":"D1","w":1510,"t":89},{"c":"D1","w":1505,"t":87.5},
{"c":"N1","w":2165,"t":95.3},{"c":"N1","w":2100,"t":95.1},{"c":"N1","w":2050,"t":95.2},{"c":"N1","w":2000,"t":95.3},{"c":"N1","w":1950,"t":95.5},{"c":"N1","w":1925,"t":95.1},{"c":"N1","w":1910,"t":95.3},{"c":"N1","w":1880,"t":96.2},{"c":"N1","w":1850,"t":97.0},{"c":"N1","w":1820,"t":97.4},{"c":"N1","w":1800,"t":97.6},{"c":"N1","w":1780,"t":98.4},{"c":"N1","w":1765,"t":99.3},{"c":"N1","w":1755,"t":99.9},{"c":"N1","w":1750,"t":99.5},{"c":"N1","w":1745,"t":97.5},{"c":"N1","w":1740,"t":90.5},{"c":"N1","w":1735,"t":82},{"c":"N1","w":1730,"t":73},{"c":"N1","w":1725,"t":61},{"c":"N1","w":1722,"t":52},{"c":"N1","w":1720,"t":49},{"c":"N1","w":1717,"t":52},{"c":"N1","w":1713,"t":62},{"c":"N1","w":1710,"t":70},{"c":"N1","w":1705,"t":76},{"c":"N1","w":1700,"t":80.5},{"c":"N1","w":1690,"t":86.5},{"c":"N1","w":1680,"t":90},{"c":"N1","w":1670,"t":92.3},{"c":"N1","w":1660,"t":93.6},{"c":"N1","w":1650,"t":94.6},{"c":"N1","w":1640,"t":95.4},{"c":"N1","w":1630,"t":96.0},{"c":"N1","w":1615,"t":96.6},{"c":"N1","w":1608,"t":96.7},{"c":"N1","w":1602,"t":95.0},{"c":"N1","w":1596,"t":96.8},{"c":"N1","w":1585,"t":97.4},{"c":"N1","w":1570,"t":97.6},{"c":"N1","w":1555,"t":97.8},{"c":"N1","w":1540,"t":97.9},{"c":"N1","w":1530,"t":97.7},{"c":"N1","w":1522,"t":97.3},{"c":"N1","w":1515,"t":95.5},{"c":"N1","w":1510,"t":92.5},{"c":"N1","w":1505,"t":91.0},
{"c":"N2","w":2165,"t":94.9},{"c":"N2","w":2100,"t":94.8},{"c":"N2","w":2050,"t":94.9},{"c":"N2","w":2000,"t":95.0},{"c":"N2","w":1950,"t":95.2},{"c":"N2","w":1925,"t":94.8},{"c":"N2","w":1910,"t":95.0},{"c":"N2","w":1880,"t":95.8},{"c":"N2","w":1850,"t":96.6},{"c":"N2","w":1820,"t":97.0},{"c":"N2","w":1800,"t":97.3},{"c":"N2","w":1780,"t":98.0},{"c":"N2","w":1765,"t":99.0},{"c":"N2","w":1755,"t":99.6},{"c":"N2","w":1750,"t":99.2},{"c":"N2","w":1745,"t":97.0},{"c":"N2","w":1740,"t":89.5},{"c":"N2","w":1735,"t":80.5},{"c":"N2","w":1730,"t":71.5},{"c":"N2","w":1725,"t":60},{"c":"N2","w":1722,"t":51},{"c":"N2","w":1720,"t":48},{"c":"N2","w":1717,"t":51},{"c":"N2","w":1713,"t":60},{"c":"N2","w":1710,"t":68},{"c":"N2","w":1705,"t":74.5},{"c":"N2","w":1700,"t":79},{"c":"N2","w":1690,"t":85},{"c":"N2","w":1680,"t":88.5},{"c":"N2","w":1670,"t":90.8},{"c":"N2","w":1660,"t":92.2},{"c":"N2","w":1650,"t":93.2},{"c":"N2","w":1640,"t":94.0},{"c":"N2","w":1630,"t":94.6},{"c":"N2","w":1615,"t":95.2},{"c":"N2","w":1608,"t":95.3},{"c":"N2","w":1602,"t":93.5},{"c":"N2","w":1596,"t":95.4},{"c":"N2","w":1585,"t":95.9},{"c":"N2","w":1570,"t":96.1},{"c":"N2","w":1555,"t":96.2},{"c":"N2","w":1540,"t":96.3},{"c":"N2","w":1530,"t":96.4},{"c":"N2","w":1522,"t":96.3},{"c":"N2","w":1515,"t":95.0},{"c":"N2","w":1510,"t":93.0},{"c":"N2","w":1505,"t":91.5}
],
"c1":[
{"c":"N1","w":3700,"t":95.4},{"c":"N1","w":3650,"t":95.1},{"c":"N1","w":3600,"t":94.8},{"c":"N1","w":3550,"t":94.4},{"c":"N1","w":3500,"t":94.1},{"c":"N1","w":3450,"t":93.8},{"c":"N1","w":3400,"t":93.4},{"c":"N1","w":3370,"t":92.8},{"c":"N1","w":3350,"t":92.0},{"c":"N1","w":3320,"t":89.5},{"c":"N1","w":3300,"t":86.5},{"c":"N1","w":3285,"t":83},{"c":"N1","w":3270,"t":80},{"c":"N1","w":3262,"t":78.5},{"c":"N1","w":3255,"t":79.3},{"c":"N1","w":3240,"t":82},{"c":"N1","w":3220,"t":85},{"c":"N1","w":3200,"t":87.8},{"c":"N1","w":3175,"t":89.5},{"c":"N1","w":3150,"t":90.6},{"c":"N1","w":3125,"t":91.8},{"c":"N1","w":3100,"t":92.5},{"c":"N1","w":3085,"t":91.8},{"c":"N1","w":3070,"t":90.6},{"c":"N1","w":3060,"t":90.3},{"c":"N1","w":3045,"t":91},{"c":"N1","w":3030,"t":92.5},{"c":"N1","w":3015,"t":93.3},{"c":"N1","w":3000,"t":93.6},
{"c":"D1","w":3700,"t":90.8},{"c":"D1","w":3650,"t":89.4},{"c":"D1","w":3600,"t":88.0},{"c":"D1","w":3550,"t":86.3},{"c":"D1","w":3500,"t":84.6},{"c":"D1","w":3450,"t":82.6},{"c":"D1","w":3400,"t":80.8},{"c":"D1","w":3370,"t":79.8},{"c":"D1","w":3350,"t":79.0},{"c":"D1","w":3320,"t":77.8},{"c":"D1","w":3300,"t":76.5},{"c":"D1","w":3285,"t":74.5},{"c":"D1","w":3270,"t":72},{"c":"D1","w":3262,"t":70.8},{"c":"D1","w":3255,"t":71.5},{"c":"D1","w":3240,"t":73.5},{"c":"D1","w":3220,"t":75.5},{"c":"D1","w":3200,"t":77.2},{"c":"D1","w":3175,"t":78.8},{"c":"D1","w":3150,"t":80.5},{"c":"D1","w":3125,"t":82.2},{"c":"D1","w":3100,"t":82.4},{"c":"D1","w":3080,"t":82.0},{"c":"D1","w":3060,"t":82.3},{"c":"D1","w":3040,"t":83.2},{"c":"D1","w":3020,"t":84.3},{"c":"D1","w":3000,"t":85.5},
{"c":"D2","w":3700,"t":88.8},{"c":"D2","w":3650,"t":87.7},{"c":"D2","w":3600,"t":86.6},{"c":"D2","w":3550,"t":85.1},{"c":"D2","w":3500,"t":83.6},{"c":"D2","w":3450,"t":81.9},{"c":"D2","w":3400,"t":80.3},{"c":"D2","w":3370,"t":79.2},{"c":"D2","w":3350,"t":78.2},{"c":"D2","w":3320,"t":76.3},{"c":"D2","w":3300,"t":74.0},{"c":"D2","w":3285,"t":71},{"c":"D2","w":3270,"t":67.3},{"c":"D2","w":3262,"t":65},{"c":"D2","w":3255,"t":66.5},{"c":"D2","w":3240,"t":70},{"c":"D2","w":3220,"t":72.8},{"c":"D2","w":3200,"t":74.8},{"c":"D2","w":3175,"t":76.5},{"c":"D2","w":3150,"t":78.2},{"c":"D2","w":3125,"t":81.0},{"c":"D2","w":3100,"t":81.8},{"c":"D2","w":3080,"t":81.5},{"c":"D2","w":3060,"t":82.0},{"c":"D2","w":3040,"t":83.0},{"c":"D2","w":3020,"t":84.0},{"c":"D2","w":3000,"t":85.3}
],
"c2":[
{"c":"N1","w":1848,"t":95.2},{"c":"N1","w":1820,"t":95.4},{"c":"N1","w":1800,"t":95.5},{"c":"N1","w":1775,"t":95.4},{"c":"N1","w":1750,"t":95.3},{"c":"N1","w":1735,"t":94.8},{"c":"N1","w":1720,"t":95.0},{"c":"N1","w":1700,"t":94.8},{"c":"N1","w":1692,"t":94.0},{"c":"N1","w":1684,"t":92.5},{"c":"N1","w":1676,"t":90.5},{"c":"N1","w":1670,"t":88.8},{"c":"N1","w":1664,"t":85.5},{"c":"N1","w":1659,"t":82.2},{"c":"N1","w":1654,"t":78.5},{"c":"N1","w":1650,"t":75},{"c":"N1","w":1645,"t":70},{"c":"N1","w":1640,"t":65.5},{"c":"N1","w":1636,"t":62},{"c":"N1","w":1632,"t":62},{"c":"N1","w":1628,"t":63.5},{"c":"N1","w":1622,"t":66.5},{"c":"N1","w":1614,"t":70.3},{"c":"N1","w":1607,"t":75},{"c":"N1","w":1600,"t":80},{"c":"N1","w":1596,"t":83},{"c":"N1","w":1592,"t":85.2},
{"c":"D1","w":1848,"t":89.6},{"c":"D1","w":1800,"t":89.5},{"c":"D1","w":1775,"t":88.6},{"c":"D1","w":1750,"t":87.4},{"c":"D1","w":1720,"t":85.2},{"c":"D1","w":1700,"t":83.5},{"c":"D1","w":1692,"t":82},{"c":"D1","w":1684,"t":78.4},{"c":"D1","w":1676,"t":75.5},{"c":"D1","w":1670,"t":73},{"c":"D1","w":1664,"t":70},{"c":"D1","w":1659,"t":67},{"c":"D1","w":1654,"t":64.2},{"c":"D1","w":1650,"t":62},{"c":"D1","w":1645,"t":57.5},{"c":"D1","w":1640,"t":53.5},{"c":"D1","w":1636,"t":52},{"c":"D1","w":1632,"t":52.5},{"c":"D1","w":1626,"t":54.5},{"c":"D1","w":1619,"t":58.5},{"c":"D1","w":1610,"t":64},{"c":"D1","w":1600,"t":70},{"c":"D1","w":1592,"t":73.8},
{"c":"D2","w":1848,"t":88.3},{"c":"D2","w":1800,"t":88.1},{"c":"D2","w":1775,"t":87.4},{"c":"D2","w":1750,"t":86.5},{"c":"D2","w":1720,"t":84.6},{"c":"D2","w":1700,"t":83.0},{"c":"D2","w":1692,"t":80.5},{"c":"D2","w":1684,"t":76.3},{"c":"D2","w":1676,"t":72.5},{"c":"D2","w":1670,"t":69},{"c":"D2","w":1664,"t":65.5},{"c":"D2","w":1659,"t":61.7},{"c":"D2","w":1654,"t":58.5},{"c":"D2","w":1650,"t":55.5},{"c":"D2","w":1645,"t":49},{"c":"D2","w":1640,"t":44},{"c":"D2","w":1636,"t":41},{"c":"D2","w":1632,"t":41.5},{"c":"D2","w":1626,"t":45},{"c":"D2","w":1619,"t":50},{"c":"D2","w":1610,"t":57},{"c":"D2","w":1600,"t":65},{"c":"D2","w":1592,"t":70.3}
],
"d1":[
{"c":"N1","w":3700,"t":99.2},{"c":"N1","w":3680,"t":99.1},{"c":"N1","w":3650,"t":99.2},{"c":"N1","w":3600,"t":98.95},{"c":"N1","w":3550,"t":98.8},{"c":"N1","w":3500,"t":98.62},{"c":"N1","w":3450,"t":98.45},{"c":"N1","w":3400,"t":98.32},{"c":"N1","w":3350,"t":98.2},{"c":"N1","w":3300,"t":98.3},{"c":"N1","w":3250,"t":98.38},{"c":"N1","w":3220,"t":98.3},{"c":"N1","w":3200,"t":98.22},{"c":"N1","w":3150,"t":98.45},{"c":"N1","w":3100,"t":98.62},{"c":"N1","w":3060,"t":98.6},{"c":"N1","w":3040,"t":98.5},{"c":"N1","w":3020,"t":98.3},{"c":"N1","w":3010,"t":98.1},{"c":"N1","w":3000,"t":97.6},
{"c":"N2","w":3700,"t":98.95},{"c":"N2","w":3650,"t":99.0},{"c":"N2","w":3600,"t":98.85},{"c":"N2","w":3500,"t":98.55},{"c":"N2","w":3400,"t":98.2},{"c":"N2","w":3350,"t":98.1},{"c":"N2","w":3300,"t":98.2},{"c":"N2","w":3250,"t":98.3},{"c":"N2","w":3200,"t":98.15},{"c":"N2","w":3150,"t":98.4},{"c":"N2","w":3100,"t":98.55},{"c":"N2","w":3060,"t":98.55},{"c":"N2","w":3040,"t":98.45},{"c":"N2","w":3020,"t":98.2},{"c":"N2","w":3000,"t":97.7},
{"c":"D1","w":3700,"t":97.3},{"c":"D1","w":3650,"t":97.2},{"c":"D1","w":3620,"t":97.0},{"c":"D1","w":3600,"t":96.7},{"c":"D1","w":3550,"t":96.2},{"c":"D1","w":3500,"t":95.78},{"c":"D1","w":3450,"t":95.45},{"c":"D1","w":3400,"t":95.35},{"c":"D1","w":3350,"t":95.45},{"c":"D1","w":3300,"t":95.62},{"c":"D1","w":3250,"t":95.78},{"c":"D1","w":3200,"t":95.92},{"c":"D1","w":3150,"t":96.05},{"c":"D1","w":3100,"t":96.15},{"c":"D1","w":3060,"t":96.12},{"c":"D1","w":3040,"t":96.0},{"c":"D1","w":3020,"t":95.75},{"c":"D1","w":3010,"t":95.5},{"c":"D1","w":3000,"t":95.15}
],
"d2":[
{"c":"N1","w":1798,"t":99.85},{"c":"N1","w":1780,"t":99.8},{"c":"N1","w":1760,"t":99.75},{"c":"N1","w":1740,"t":99.7},{"c":"N1","w":1730,"t":99.6},{"c":"N1","w":1720,"t":99.52},{"c":"N1","w":1710,"t":99.45},{"c":"N1","w":1700,"t":99.3},{"c":"N1","w":1690,"t":99.1},{"c":"N1","w":1680,"t":98.95},{"c":"N1","w":1670,"t":98.8},{"c":"N1","w":1660,"t":98.65},
{"c":"D1","w":1798,"t":95.4},{"c":"D1","w":1790,"t":94.7},{"c":"D1","w":1780,"t":93.45},{"c":"D1","w":1770,"t":92.1},{"c":"D1","w":1760,"t":91.15},{"c":"D1","w":1750,"t":90.4},{"c":"D1","w":1745,"t":89.9},{"c":"D1","w":1740,"t":89.0},{"c":"D1","w":1735,"t":87.9},{"c":"D1","w":1730,"t":86.9},{"c":"D1","w":1725,"t":86.25},{"c":"D1","w":1720,"t":86.05},{"c":"D1","w":1715,"t":86.25},{"c":"D1","w":1710,"t":87.3},{"c":"D1","w":1705,"t":89.0},{"c":"D1","w":1700,"t":90.9},{"c":"D1","w":1695,"t":92.3},{"c":"D1","w":1690,"t":93.3},{"c":"D1","w":1685,"t":93.9},{"c":"D1","w":1680,"t":94.4},{"c":"D1","w":1670,"t":95.0},{"c":"D1","w":1660,"t":95.6}
],
"e":[
{"c":"N1","w":4000,"t":97.8},{"c":"N1","w":3900,"t":97.85},{"c":"N1","w":3800,"t":97.9},{"c":"N1","w":3750,"t":97.95},{"c":"N1","w":3700,"t":98.0},{"c":"N1","w":3670,"t":97.8},{"c":"N1","w":3640,"t":97.3},{"c":"N1","w":3620,"t":97.2},{"c":"N1","w":3600,"t":97.45},{"c":"N1","w":3580,"t":97.55},{"c":"N1","w":3550,"t":97.4},{"c":"N1","w":3520,"t":97.6},{"c":"N1","w":3500,"t":97.6},{"c":"N1","w":3460,"t":97.65},{"c":"N1","w":3440,"t":97.4},{"c":"N1","w":3425,"t":96.95},{"c":"N1","w":3410,"t":97.4},{"c":"N1","w":3400,"t":97.65},{"c":"N1","w":3350,"t":97.75},{"c":"N1","w":3300,"t":97.8},{"c":"N1","w":3250,"t":97.8},{"c":"N1","w":3200,"t":97.8},{"c":"N1","w":3150,"t":97.75},{"c":"N1","w":3100,"t":97.45},{"c":"N1","w":3080,"t":97.1},{"c":"N1","w":3060,"t":96.9},{"c":"N1","w":3045,"t":97.0},{"c":"N1","w":3035,"t":97.5},{"c":"N1","w":3025,"t":97.4},{"c":"N1","w":3010,"t":97.0},{"c":"N1","w":2995,"t":96.4},{"c":"N1","w":2985,"t":95.5},{"c":"N1","w":2975,"t":94.3},{"c":"N1","w":2965,"t":93.0},{"c":"N1","w":2960,"t":92.5},{"c":"N1","w":2955,"t":93.5},{"c":"N1","w":2950,"t":94.8},{"c":"N1","w":2945,"t":96.0},{"c":"N1","w":2930,"t":96.2},{"c":"N1","w":2910,"t":96.3},{"c":"N1","w":2890,"t":96.6},{"c":"N1","w":2870,"t":96.9},{"c":"N1","w":2850,"t":97.4},{"c":"N1","w":2820,"t":97.9},{"c":"N1","w":2800,"t":98.0},{"c":"N1","w":2750,"t":98.2},{"c":"N1","w":2700,"t":98.4},{"c":"N1","w":2650,"t":98.35},{"c":"N1","w":2600,"t":98.2},{"c":"N1","w":2550,"t":98.3},{"c":"N1","w":2500,"t":98.6},{"c":"N1","w":2450,"t":98.5},{"c":"N1","w":2400,"t":98.2},{"c":"N1","w":2370,"t":98.3},{"c":"N1","w":2350,"t":98.6},{"c":"N1","w":2300,"t":98.5},{"c":"N1","w":2250,"t":98.7},{"c":"N1","w":2200,"t":98.8},{"c":"N1","w":2150,"t":98.9},{"c":"N1","w":2100,"t":99.0},{"c":"N1","w":2060,"t":98.8},{"c":"N1","w":2030,"t":99.2},{"c":"N1","w":2000,"t":99.0},{"c":"N1","w":1970,"t":98.6},{"c":"N1","w":1950,"t":98.1},{"c":"N1","w":1940,"t":97.9},{"c":"N1","w":1920,"t":98.6},{"c":"N1","w":1900,"t":99.1},{"c":"N1","w":1870,"t":99.4},{"c":"N1","w":1850,"t":99.2},{"c":"N1","w":1830,"t":98.6},{"c":"N1","w":1815,"t":98.1},{"c":"N1","w":1800,"t":98.1},
{"c":"D1","w":4000,"t":96.7},{"c":"D1","w":3900,"t":96.75},{"c":"D1","w":3800,"t":96.8},{"c":"D1","w":3700,"t":96.8},{"c":"D1","w":3670,"t":96.6},{"c":"D1","w":3650,"t":96.2},{"c":"D1","w":3620,"t":95.6},{"c":"D1","w":3600,"t":95.3},{"c":"D1","w":3580,"t":95.1},{"c":"D1","w":3550,"t":94.8},{"c":"D1","w":3500,"t":94.45},{"c":"D1","w":3450,"t":94.3},{"c":"D1","w":3425,"t":93.9},{"c":"D1","w":3410,"t":94.2},{"c":"D1","w":3400,"t":94.3},{"c":"D1","w":3350,"t":94.25},{"c":"D1","w":3300,"t":94.3},{"c":"D1","w":3250,"t":94.25},{"c":"D1","w":3200,"t":94.2},{"c":"D1","w":3150,"t":94.4},{"c":"D1","w":3120,"t":94.3},{"c":"D1","w":3100,"t":94.0},{"c":"D1","w":3070,"t":93.6},{"c":"D1","w":3055,"t":93.6},{"c":"D1","w":3040,"t":94.3},{"c":"D1","w":3025,"t":94.1},{"c":"D1","w":3000,"t":93.9},{"c":"D1","w":2985,"t":93.5},{"c":"D1","w":2970,"t":92.3},{"c":"D1","w":2963,"t":90.5},{"c":"D1","w":2958,"t":89.6},{"c":"D1","w":2953,"t":90.5},{"c":"D1","w":2945,"t":92.0},{"c":"D1","w":2935,"t":92.9},{"c":"D1","w":2915,"t":93.0},{"c":"D1","w":2895,"t":93.3},{"c":"D1","w":2880,"t":93.35},{"c":"D1","w":2860,"t":93.6},{"c":"D1","w":2830,"t":93.95},{"c":"D1","w":2800,"t":94.4},{"c":"D1","w":2750,"t":95.0},{"c":"D1","w":2700,"t":95.6},{"c":"D1","w":2650,"t":95.5},{"c":"D1","w":2600,"t":95.4},{"c":"D1","w":2550,"t":95.3},{"c":"D1","w":2500,"t":95.5},{"c":"D1","w":2450,"t":96.0},{"c":"D1","w":2400,"t":96.1},{"c":"D1","w":2370,"t":96.0},{"c":"D1","w":2355,"t":96.9},{"c":"D1","w":2330,"t":96.7},{"c":"D1","w":2300,"t":96.7},{"c":"D1","w":2250,"t":96.9},{"c":"D1","w":2200,"t":97.1},{"c":"D1","w":2170,"t":97.2},{"c":"D1","w":2140,"t":97.5},{"c":"D1","w":2120,"t":97.0},{"c":"D1","w":2100,"t":96.7},{"c":"D1","w":2070,"t":97.0},{"c":"D1","w":2030,"t":97.6},{"c":"D1","w":2000,"t":97.2},{"c":"D1","w":1970,"t":96.7},{"c":"D1","w":1950,"t":96.2},{"c":"D1","w":1940,"t":96.0},{"c":"D1","w":1920,"t":96.6},{"c":"D1","w":1900,"t":97.1},{"c":"D1","w":1870,"t":97.3},{"c":"D1","w":1850,"t":97.1},{"c":"D1","w":1830,"t":96.6},{"c":"D1","w":1815,"t":96.0},{"c":"D1","w":1800,"t":95.5},
{"c":"D2","w":4000,"t":96.4},{"c":"D2","w":3900,"t":96.45},{"c":"D2","w":3800,"t":96.5},{"c":"D2","w":3700,"t":96.5},{"c":"D2","w":3670,"t":96.3},{"c":"D2","w":3650,"t":96.0},{"c":"D2","w":3620,"t":95.3},{"c":"D2","w":3600,"t":95.0},{"c":"D2","w":3580,"t":94.8},{"c":"D2","w":3550,"t":94.4},{"c":"D2","w":3500,"t":94.0},{"c":"D2","w":3450,"t":93.4},{"c":"D2","w":3425,"t":92.95},{"c":"D2","w":3410,"t":93.3},{"c":"D2","w":3400,"t":93.4},{"c":"D2","w":3350,"t":93.35},{"c":"D2","w":3300,"t":93.4},{"c":"D2","w":3250,"t":93.4},{"c":"D2","w":3200,"t":93.45},{"c":"D2","w":3150,"t":93.6},{"c":"D2","w":3120,"t":93.5},{"c":"D2","w":3100,"t":93.2},{"c":"D2","w":3070,"t":92.8},{"c":"D2","w":3055,"t":92.6},{"c":"D2","w":3040,"t":93.6},{"c":"D2","w":3025,"t":93.2},{"c":"D2","w":3000,"t":92.7},{"c":"D2","w":2985,"t":92.2},{"c":"D2","w":2970,"t":91.3},{"c":"D2","w":2963,"t":90.2},{"c":"D2","w":2958,"t":89.5},{"c":"D2","w":2953,"t":90.2},{"c":"D2","w":2945,"t":91.4},{"c":"D2","w":2935,"t":92.3},{"c":"D2","w":2915,"t":92.6},{"c":"D2","w":2895,"t":92.6},{"c":"D2","w":2880,"t":92.5},{"c":"D2","w":2860,"t":92.9},{"c":"D2","w":2830,"t":93.4},{"c":"D2","w":2800,"t":93.8},{"c":"D2","w":2750,"t":94.4},{"c":"D2","w":2700,"t":95.0},{"c":"D2","w":2650,"t":94.9},{"c":"D2","w":2600,"t":94.8},{"c":"D2","w":2550,"t":94.6},{"c":"D2","w":2500,"t":95.0},{"c":"D2","w":2450,"t":95.7},{"c":"D2","w":2400,"t":95.9},{"c":"D2","w":2370,"t":95.9},{"c":"D2","w":2355,"t":96.8},{"c":"D2","w":2330,"t":96.5},{"c":"D2","w":2300,"t":96.4},{"c":"D2","w":2250,"t":96.7},{"c":"D2","w":2200,"t":96.9},{"c":"D2","w":2170,"t":97.0},{"c":"D2","w":2140,"t":97.2},{"c":"D2","w":2120,"t":96.8},{"c":"D2","w":2100,"t":96.5},{"c":"D2","w":2070,"t":96.8},{"c":"D2","w":2030,"t":97.4},{"c":"D2","w":2000,"t":97.1},{"c":"D2","w":1970,"t":96.4},{"c":"D2","w":1950,"t":96.0},{"c":"D2","w":1940,"t":95.8},{"c":"D2","w":1920,"t":96.5},{"c":"D2","w":1900,"t":97.0},{"c":"D2","w":1870,"t":97.1},{"c":"D2","w":1850,"t":96.9},{"c":"D2","w":1830,"t":96.4},{"c":"D2","w":1815,"t":95.9},{"c":"D2","w":1800,"t":95.4}
],
"f1":[
{"c":"N1","w":3700,"t":93.4},{"c":"N1","w":3690,"t":93.7},{"c":"N1","w":3680,"t":93.2},{"c":"N1","w":3670,"t":93.6},{"c":"N1","w":3660,"t":93.1},{"c":"N1","w":3650,"t":93.3},{"c":"N1","w":3640,"t":92.9},{"c":"N1","w":3630,"t":93.5},{"c":"N1","w":3600,"t":93.8},{"c":"N1","w":3550,"t":94.0},{"c":"N1","w":3500,"t":94.25},{"c":"N1","w":3450,"t":94.3},{"c":"N1","w":3400,"t":94.4},{"c":"N1","w":3350,"t":94.4},{"c":"N1","w":3300,"t":94.5},{"c":"N1","w":3250,"t":94.6},{"c":"N1","w":3200,"t":94.8},{"c":"N1","w":3150,"t":95.15},{"c":"N1","w":3100,"t":95.7},{"c":"N1","w":3050,"t":96.3},{"c":"N1","w":3020,"t":96.8},{"c":"N1","w":3000,"t":97.3},
{"c":"N2","w":3700,"t":92.0},{"c":"N2","w":3680,"t":92.1},{"c":"N2","w":3660,"t":92.0},{"c":"N2","w":3640,"t":92.2},{"c":"N2","w":3630,"t":92.0},{"c":"N2","w":3600,"t":92.4},{"c":"N2","w":3550,"t":92.65},{"c":"N2","w":3500,"t":92.9},{"c":"N2","w":3450,"t":93.0},{"c":"N2","w":3400,"t":93.1},{"c":"N2","w":3350,"t":93.2},{"c":"N2","w":3300,"t":93.3},{"c":"N2","w":3250,"t":93.5},{"c":"N2","w":3200,"t":93.7},{"c":"N2","w":3150,"t":94.0},{"c":"N2","w":3100,"t":94.4},{"c":"N2","w":3050,"t":94.9},{"c":"N2","w":3020,"t":95.2},{"c":"N2","w":3000,"t":95.5},
{"c":"D1","w":3700,"t":91.25},{"c":"D1","w":3650,"t":91.2},{"c":"D1","w":3600,"t":91.2},{"c":"D1","w":3560,"t":91.1},{"c":"D1","w":3530,"t":90.9},{"c":"D1","w":3500,"t":90.75},{"c":"D1","w":3470,"t":90.5},{"c":"D1","w":3440,"t":90.3},{"c":"D1","w":3420,"t":90.15},{"c":"D1","w":3410,"t":90.35},{"c":"D1","w":3400,"t":90.0},{"c":"D1","w":3390,"t":90.2},{"c":"D1","w":3350,"t":90.05},{"c":"D1","w":3300,"t":90.0},{"c":"D1","w":3250,"t":90.1},{"c":"D1","w":3200,"t":90.45},{"c":"D1","w":3150,"t":90.75},{"c":"D1","w":3100,"t":91.1},{"c":"D1","w":3050,"t":91.5},{"c":"D1","w":3020,"t":91.9},{"c":"D1","w":3000,"t":92.4},
{"c":"D2","w":3700,"t":90.75},{"c":"D2","w":3650,"t":90.75},{"c":"D2","w":3600,"t":90.8},{"c":"D2","w":3560,"t":91.0},{"c":"D2","w":3530,"t":90.85},{"c":"D2","w":3500,"t":90.7},{"c":"D2","w":3470,"t":90.45},{"c":"D2","w":3440,"t":90.2},{"c":"D2","w":3420,"t":90.0},{"c":"D2","w":3410,"t":89.9},{"c":"D2","w":3400,"t":89.85},{"c":"D2","w":3390,"t":90.1},{"c":"D2","w":3350,"t":90.0},{"c":"D2","w":3300,"t":89.95},{"c":"D2","w":3250,"t":90.05},{"c":"D2","w":3200,"t":90.4},{"c":"D2","w":3150,"t":90.7},{"c":"D2","w":3100,"t":91.05},{"c":"D2","w":3050,"t":91.4},{"c":"D2","w":3020,"t":91.8},{"c":"D2","w":3000,"t":92.1}
],
"f2":[
{"c":"N1","w":1780,"t":98.35},{"c":"N1","w":1770,"t":98.4},{"c":"N1","w":1760,"t":98.4},{"c":"N1","w":1750,"t":98.45},{"c":"N1","w":1740,"t":98.4},{"c":"N1","w":1730,"t":98.45},{"c":"N1","w":1720,"t":98.5},{"c":"N1","w":1712,"t":98.2},{"c":"N1","w":1705,"t":98.5},{"c":"N1","w":1700,"t":98.7},{"c":"N1","w":1690,"t":98.8},{"c":"N1","w":1680,"t":98.9},{"c":"N1","w":1670,"t":99.0},{"c":"N1","w":1660,"t":99.0},{"c":"N1","w":1650,"t":99.1},{"c":"N1","w":1640,"t":99.3},
{"c":"N2","w":1780,"t":96.2},{"c":"N2","w":1770,"t":96.3},{"c":"N2","w":1760,"t":96.25},{"c":"N2","w":1750,"t":96.3},{"c":"N2","w":1740,"t":96.2},{"c":"N2","w":1730,"t":96.3},{"c":"N2","w":1720,"t":96.2},{"c":"N2","w":1714,"t":95.9},{"c":"N2","w":1708,"t":96.3},{"c":"N2","w":1700,"t":96.4},{"c":"N2","w":1690,"t":96.6},{"c":"N2","w":1685,"t":96.4},{"c":"N2","w":1680,"t":96.6},{"c":"N2","w":1670,"t":96.35},{"c":"N2","w":1660,"t":96.45},{"c":"N2","w":1650,"t":96.3},{"c":"N2","w":1640,"t":96.5},
{"c":"D1","w":1780,"t":87.2},{"c":"D1","w":1770,"t":87.15},{"c":"D1","w":1760,"t":86.95},{"c":"D1","w":1750,"t":86.6},{"c":"D1","w":1740,"t":86.3},{"c":"D1","w":1730,"t":86.1},{"c":"D1","w":1720,"t":85.9},{"c":"D1","w":1712,"t":85.6},{"c":"D1","w":1706,"t":85.35},{"c":"D1","w":1700,"t":85.7},{"c":"D1","w":1695,"t":86.05},{"c":"D1","w":1690,"t":86.2},{"c":"D1","w":1680,"t":86.15},{"c":"D1","w":1670,"t":86.1},{"c":"D1","w":1660,"t":86.0},{"c":"D1","w":1650,"t":86.0},{"c":"D1","w":1640,"t":86.0},
{"c":"D2","w":1780,"t":86.6},{"c":"D2","w":1770,"t":86.6},{"c":"D2","w":1760,"t":86.55},{"c":"D2","w":1750,"t":86.3},{"c":"D2","w":1740,"t":86.0},{"c":"D2","w":1730,"t":85.9},{"c":"D2","w":1720,"t":85.7},{"c":"D2","w":1712,"t":85.5},{"c":"D2","w":1706,"t":85.35},{"c":"D2","w":1700,"t":85.65},{"c":"D2","w":1695,"t":85.95},{"c":"D2","w":1690,"t":86.1},{"c":"D2","w":1680,"t":86.0},{"c":"D2","w":1670,"t":85.95},{"c":"D2","w":1660,"t":85.9},{"c":"D2","w":1650,"t":85.85},{"c":"D2","w":1640,"t":85.85}
],
"g1":[
{"c":"N1","w":3700,"t":98.6},{"c":"N1","w":3650,"t":98.5},{"c":"N1","w":3600,"t":98.4},{"c":"N1","w":3550,"t":98.2},{"c":"N1","w":3500,"t":98.0},{"c":"N1","w":3450,"t":97.7},{"c":"N1","w":3400,"t":97.5},{"c":"N1","w":3350,"t":97.55},{"c":"N1","w":3300,"t":97.6},{"c":"N1","w":3250,"t":97.7},{"c":"N1","w":3200,"t":97.8},{"c":"N1","w":3160,"t":98.05},{"c":"N1","w":3140,"t":98.0},{"c":"N1","w":3120,"t":97.8},{"c":"N1","w":3110,"t":97.3},
{"c":"N2","w":3700,"t":98.1},{"c":"N2","w":3650,"t":98.1},{"c":"N2","w":3600,"t":98.05},{"c":"N2","w":3550,"t":97.9},{"c":"N2","w":3500,"t":97.7},{"c":"N2","w":3450,"t":97.4},{"c":"N2","w":3400,"t":97.2},{"c":"N2","w":3350,"t":97.3},{"c":"N2","w":3300,"t":97.4},{"c":"N2","w":3250,"t":97.5},{"c":"N2","w":3200,"t":97.6},{"c":"N2","w":3160,"t":97.85},{"c":"N2","w":3140,"t":97.8},{"c":"N2","w":3120,"t":97.6},{"c":"N2","w":3110,"t":97.1},
{"c":"D1","w":3700,"t":92.3},{"c":"D1","w":3650,"t":91.4},{"c":"D1","w":3600,"t":90.5},{"c":"D1","w":3550,"t":89.6},{"c":"D1","w":3500,"t":88.9},{"c":"D1","w":3450,"t":88.3},{"c":"D1","w":3400,"t":87.9},{"c":"D1","w":3350,"t":87.8},{"c":"D1","w":3300,"t":87.8},{"c":"D1","w":3250,"t":87.75},{"c":"D1","w":3200,"t":87.8},{"c":"D1","w":3150,"t":88.05},{"c":"D1","w":3120,"t":88.1},{"c":"D1","w":3110,"t":88.0},
{"c":"D2","w":3700,"t":91.6},{"c":"D2","w":3650,"t":90.5},{"c":"D2","w":3600,"t":89.5},{"c":"D2","w":3550,"t":88.5},{"c":"D2","w":3500,"t":87.7},{"c":"D2","w":3450,"t":86.9},{"c":"D2","w":3400,"t":86.45},{"c":"D2","w":3350,"t":86.4},{"c":"D2","w":3300,"t":86.55},{"c":"D2","w":3250,"t":86.8},{"c":"D2","w":3200,"t":87.06},{"c":"D2","w":3150,"t":87.4},{"c":"D2","w":3120,"t":87.5},{"c":"D2","w":3110,"t":87.4}
],
"g2":[
{"c":"N1","w":1840,"t":99.9},{"c":"N1","w":1830,"t":99.8},{"c":"N1","w":1820,"t":99.6},{"c":"N1","w":1810,"t":99.2},{"c":"N1","w":1800,"t":98.9},{"c":"N1","w":1790,"t":99.2},{"c":"N1","w":1780,"t":99.5},{"c":"N1","w":1770,"t":99.6},{"c":"N1","w":1760,"t":99.45},{"c":"N1","w":1750,"t":99.2},{"c":"N1","w":1740,"t":98.6},{"c":"N1","w":1730,"t":97.9},{"c":"N1","w":1720,"t":97.45},{"c":"N1","w":1710,"t":97.9},{"c":"N1","w":1700,"t":98.4},{"c":"N1","w":1690,"t":98.9},{"c":"N1","w":1680,"t":99.07},{"c":"N1","w":1670,"t":98.8},{"c":"N1","w":1660,"t":98.1},{"c":"N1","w":1650,"t":97.9},{"c":"N1","w":1645,"t":97.5},{"c":"N1","w":1640,"t":97.0},{"c":"N1","w":1635,"t":97.6},{"c":"N1","w":1630,"t":97.9},{"c":"N1","w":1620,"t":98.0},{"c":"N1","w":1612,"t":97.7},{"c":"N1","w":1606,"t":95.5},{"c":"N1","w":1602,"t":91},{"c":"N1","w":1600,"t":89.7},{"c":"N1","w":1598,"t":91},{"c":"N1","w":1595,"t":94.5},{"c":"N1","w":1591,"t":96.8},{"c":"N1","w":1586,"t":95.6},{"c":"N1","w":1580,"t":96.2},{"c":"N1","w":1570,"t":98.2},{"c":"N1","w":1560,"t":98.6},{"c":"N1","w":1550,"t":98.2},{"c":"N1","w":1545,"t":97.5},{"c":"N1","w":1538,"t":98.1},{"c":"N1","w":1530,"t":99.2},{"c":"N1","w":1520,"t":99.8},{"c":"N1","w":1516,"t":99.9},
{"c":"N2","w":1840,"t":99.3},{"c":"N2","w":1830,"t":99.2},{"c":"N2","w":1820,"t":99.0},{"c":"N2","w":1810,"t":98.7},{"c":"N2","w":1800,"t":98.5},{"c":"N2","w":1790,"t":98.8},{"c":"N2","w":1780,"t":99.0},{"c":"N2","w":1770,"t":99.1},{"c":"N2","w":1760,"t":99.0},{"c":"N2","w":1750,"t":98.7},{"c":"N2","w":1740,"t":98.2},{"c":"N2","w":1730,"t":97.6},{"c":"N2","w":1720,"t":97.3},{"c":"N2","w":1710,"t":97.6},{"c":"N2","w":1700,"t":98.1},{"c":"N2","w":1690,"t":98.5},{"c":"N2","w":1680,"t":98.6},{"c":"N2","w":1670,"t":98.4},{"c":"N2","w":1660,"t":97.8},{"c":"N2","w":1650,"t":97.6},{"c":"N2","w":1645,"t":97.2},{"c":"N2","w":1640,"t":96.7},{"c":"N2","w":1635,"t":97.3},{"c":"N2","w":1630,"t":97.6},{"c":"N2","w":1620,"t":97.7},{"c":"N2","w":1612,"t":97.3},{"c":"N2","w":1606,"t":95},{"c":"N2","w":1602,"t":90.5},{"c":"N2","w":1600,"t":89.5},{"c":"N2","w":1598,"t":90.5},{"c":"N2","w":1595,"t":93.5},{"c":"N2","w":1591,"t":96},{"c":"N2","w":1586,"t":95},{"c":"N2","w":1580,"t":95.6},{"c":"N2","w":1570,"t":97.6},{"c":"N2","w":1560,"t":98.2},{"c":"N2","w":1550,"t":97.8},{"c":"N2","w":1545,"t":97.3},{"c":"N2","w":1538,"t":97.8},{"c":"N2","w":1530,"t":98.8},{"c":"N2","w":1520,"t":99.5},{"c":"N2","w":1516,"t":99.6},
{"c":"D1","w":1840,"t":91.7},{"c":"D1","w":1830,"t":91.4},{"c":"D1","w":1820,"t":91.0},{"c":"D1","w":1810,"t":90.3},{"c":"D1","w":1800,"t":89.5},{"c":"D1","w":1790,"t":88.3},{"c":"D1","w":1780,"t":87.0},{"c":"D1","w":1770,"t":85.6},{"c":"D1","w":1760,"t":84.4},{"c":"D1","w":1750,"t":82.9},{"c":"D1","w":1740,"t":81.4},{"c":"D1","w":1730,"t":80.0},{"c":"D1","w":1720,"t":78.8},{"c":"D1","w":1710,"t":77.3},{"c":"D1","w":1705,"t":77.2},{"c":"D1","w":1700,"t":77.8},{"c":"D1","w":1690,"t":79.5},{"c":"D1","w":1680,"t":81.4},{"c":"D1","w":1670,"t":83.2},{"c":"D1","w":1660,"t":83.8},{"c":"D1","w":1650,"t":83.7},{"c":"D1","w":1640,"t":83.6},{"c":"D1","w":1625,"t":83.5},{"c":"D1","w":1615,"t":83.0},{"c":"D1","w":1608,"t":82.5},{"c":"D1","w":1603,"t":81.0},{"c":"D1","w":1600,"t":80.8},{"c":"D1","w":1597,"t":82.5},{"c":"D1","w":1592,"t":84.2},{"c":"D1","w":1585,"t":84.8},{"c":"D1","w":1578,"t":85.3},{"c":"D1","w":1570,"t":86.5},{"c":"D1","w":1560,"t":88.1},{"c":"D1","w":1550,"t":89.2},{"c":"D1","w":1540,"t":89.8},{"c":"D1","w":1530,"t":90.2},{"c":"D1","w":1520,"t":90.4},{"c":"D1","w":1516,"t":90.2},
{"c":"D2","w":1840,"t":91.4},{"c":"D2","w":1830,"t":91.1},{"c":"D2","w":1820,"t":90.8},{"c":"D2","w":1810,"t":90.1},{"c":"D2","w":1800,"t":89.3},{"c":"D2","w":1790,"t":88.1},{"c":"D2","w":1780,"t":86.8},{"c":"D2","w":1770,"t":85.4},{"c":"D2","w":1760,"t":84.2},{"c":"D2","w":1750,"t":82.7},{"c":"D2","w":1740,"t":81.2},{"c":"D2","w":1730,"t":79.8},{"c":"D2","w":1720,"t":78.5},{"c":"D2","w":1710,"t":77.0},{"c":"D2","w":1705,"t":76.9},{"c":"D2","w":1700,"t":77.5},{"c":"D2","w":1690,"t":79.3},{"c":"D2","w":1680,"t":81.2},{"c":"D2","w":1670,"t":83.0},{"c":"D2","w":1660,"t":83.6},{"c":"D2","w":1650,"t":83.5},{"c":"D2","w":1640,"t":83.4},{"c":"D2","w":1625,"t":83.3},{"c":"D2","w":1615,"t":82.8},{"c":"D2","w":1608,"t":82.2},{"c":"D2","w":1603,"t":80.6},{"c":"D2","w":1600,"t":80.4},{"c":"D2","w":1597,"t":82.2},{"c":"D2","w":1592,"t":84.0},{"c":"D2","w":1585,"t":84.6},{"c":"D2","w":1578,"t":85.1},{"c":"D2","w":1570,"t":86.3},{"c":"D2","w":1560,"t":87.9},{"c":"D2","w":1550,"t":89.0},{"c":"D2","w":1540,"t":89.6},{"c":"D2","w":1530,"t":90.0},{"c":"D2","w":1520,"t":90.2},{"c":"D2","w":1516,"t":90.0}
],
"g3":[
{"c":"N1","w":1398,"t":97.6},{"c":"N1","w":1390,"t":96.8},{"c":"N1","w":1380,"t":96.0},{"c":"N1","w":1370,"t":95.1},{"c":"N1","w":1360,"t":95.5},{"c":"N1","w":1350,"t":95.9},{"c":"N1","w":1340,"t":96.1},{"c":"N1","w":1330,"t":95.9},{"c":"N1","w":1320,"t":96.4},{"c":"N1","w":1310,"t":96.6},{"c":"N1","w":1300,"t":97.0},{"c":"N1","w":1280,"t":97.3},{"c":"N1","w":1260,"t":97.5},{"c":"N1","w":1240,"t":97.7},{"c":"N1","w":1220,"t":97.9},{"c":"N1","w":1200,"t":98.1},{"c":"N1","w":1190,"t":97.9},{"c":"N1","w":1185,"t":97.0},{"c":"N1","w":1180,"t":95.3},{"c":"N1","w":1176,"t":97.0},{"c":"N1","w":1170,"t":97.3},{"c":"N1","w":1165,"t":96.9},{"c":"N1","w":1160,"t":95.15},{"c":"N1","w":1156,"t":97.0},{"c":"N1","w":1150,"t":97.8},{"c":"N1","w":1140,"t":98.0},{"c":"N1","w":1130,"t":97.7},{"c":"N1","w":1120,"t":97.3},{"c":"N1","w":1110,"t":96.9},{"c":"N1","w":1100,"t":96.6},{"c":"N1","w":1090,"t":95.5},{"c":"N1","w":1082,"t":93.7},{"c":"N1","w":1076,"t":95.0},{"c":"N1","w":1070,"t":96.5},{"c":"N1","w":1060,"t":97.1},{"c":"N1","w":1052,"t":96.4},{"c":"N1","w":1047,"t":93},{"c":"N1","w":1043,"t":89.5},{"c":"N1","w":1040,"t":88.9},{"c":"N1","w":1037,"t":90.5},{"c":"N1","w":1033,"t":93.5},{"c":"N1","w":1028,"t":95.4},{"c":"N1","w":1020,"t":96.0},{"c":"N1","w":1010,"t":96.3},{"c":"N1","w":1002,"t":96.2},
{"c":"N2","w":1398,"t":97.3},{"c":"N2","w":1390,"t":96.5},{"c":"N2","w":1380,"t":95.7},{"c":"N2","w":1370,"t":94.8},{"c":"N2","w":1360,"t":95.2},{"c":"N2","w":1350,"t":95.6},{"c":"N2","w":1340,"t":95.8},{"c":"N2","w":1330,"t":95.6},{"c":"N2","w":1320,"t":96.1},{"c":"N2","w":1310,"t":96.3},{"c":"N2","w":1300,"t":96.7},{"c":"N2","w":1280,"t":97.0},{"c":"N2","w":1260,"t":97.2},{"c":"N2","w":1240,"t":97.4},{"c":"N2","w":1220,"t":97.6},{"c":"N2","w":1200,"t":97.8},{"c":"N2","w":1190,"t":97.6},{"c":"N2","w":1185,"t":96.6},{"c":"N2","w":1180,"t":94.9},{"c":"N2","w":1176,"t":96.6},{"c":"N2","w":1170,"t":97.0},{"c":"N2","w":1165,"t":96.5},{"c":"N2","w":1160,"t":94.8},{"c":"N2","w":1156,"t":96.6},{"c":"N2","w":1150,"t":97.5},{"c":"N2","w":1140,"t":97.7},{"c":"N2","w":1130,"t":97.4},{"c":"N2","w":1120,"t":97.0},{"c":"N2","w":1110,"t":96.6},{"c":"N2","w":1100,"t":96.3},{"c":"N2","w":1090,"t":95.1},{"c":"N2","w":1082,"t":93.2},{"c":"N2","w":1076,"t":94.6},{"c":"N2","w":1070,"t":96.1},{"c":"N2","w":1060,"t":96.8},{"c":"N2","w":1052,"t":96.0},{"c":"N2","w":1047,"t":92.4},{"c":"N2","w":1043,"t":89.2},{"c":"N2","w":1040,"t":88.6},{"c":"N2","w":1037,"t":90.1},{"c":"N2","w":1033,"t":93.0},{"c":"N2","w":1028,"t":95.0},{"c":"N2","w":1020,"t":95.6},{"c":"N2","w":1010,"t":95.9},{"c":"N2","w":1002,"t":95.8},
{"c":"D1","w":1398,"t":85.2},{"c":"D1","w":1390,"t":84.6},{"c":"D1","w":1380,"t":84.3},{"c":"D1","w":1370,"t":84.6},{"c":"D1","w":1360,"t":84.0},{"c":"D1","w":1350,"t":83.5},{"c":"D1","w":1340,"t":82.8},{"c":"D1","w":1330,"t":82.3},{"c":"D1","w":1320,"t":81.8},{"c":"D1","w":1310,"t":81.1},{"c":"D1","w":1300,"t":80.4},{"c":"D1","w":1290,"t":79.7},{"c":"D1","w":1280,"t":79.2},{"c":"D1","w":1270,"t":78.8},{"c":"D1","w":1260,"t":78.4},{"c":"D1","w":1250,"t":78.1},{"c":"D1","w":1240,"t":77.9},{"c":"D1","w":1230,"t":77.8},{"c":"D1","w":1220,"t":78.0},{"c":"D1","w":1210,"t":78.3},{"c":"D1","w":1200,"t":78.4},{"c":"D1","w":1195,"t":78.0},{"c":"D1","w":1190,"t":77.7},{"c":"D1","w":1185,"t":78.5},{"c":"D1","w":1180,"t":79.5},{"c":"D1","w":1170,"t":80.6},{"c":"D1","w":1160,"t":81.0},{"c":"D1","w":1150,"t":81.2},{"c":"D1","w":1140,"t":81.6},{"c":"D1","w":1130,"t":82.0},{"c":"D1","w":1120,"t":82.4},{"c":"D1","w":1110,"t":82.3},{"c":"D1","w":1100,"t":81.8},{"c":"D1","w":1090,"t":80.6},{"c":"D1","w":1085,"t":81.6},{"c":"D1","w":1080,"t":82.5},{"c":"D1","w":1070,"t":82.8},{"c":"D1","w":1065,"t":82.6},{"c":"D1","w":1058,"t":80.5},{"c":"D1","w":1053,"t":79.2},{"c":"D1","w":1048,"t":80.5},{"c":"D1","w":1042,"t":82.0},{"c":"D1","w":1035,"t":82.4},{"c":"D1","w":1025,"t":82.6},{"c":"D1","w":1015,"t":82.4},{"c":"D1","w":1008,"t":82.6},{"c":"D1","w":1002,"t":82.6},
{"c":"D2","w":1398,"t":84.9},{"c":"D2","w":1390,"t":84.3},{"c":"D2","w":1380,"t":84.0},{"c":"D2","w":1370,"t":84.2},{"c":"D2","w":1360,"t":83.6},{"c":"D2","w":1350,"t":83.0},{"c":"D2","w":1340,"t":82.4},{"c":"D2","w":1330,"t":81.6},{"c":"D2","w":1320,"t":80.8},{"c":"D2","w":1310,"t":80.0},{"c":"D2","w":1300,"t":79.2},{"c":"D2","w":1290,"t":78.6},{"c":"D2","w":1280,"t":78.0},{"c":"D2","w":1270,"t":77.7},{"c":"D2","w":1260,"t":77.4},{"c":"D2","w":1250,"t":77.2},{"c":"D2","w":1240,"t":77.0},{"c":"D2","w":1230,"t":76.9},{"c":"D2","w":1220,"t":77.0},{"c":"D2","w":1210,"t":77.3},{"c":"D2","w":1200,"t":77.5},{"c":"D2","w":1195,"t":77.3},{"c":"D2","w":1190,"t":77.1},{"c":"D2","w":1185,"t":77.7},{"c":"D2","w":1180,"t":78.4},{"c":"D2","w":1170,"t":79.6},{"c":"D2","w":1160,"t":80.2},{"c":"D2","w":1150,"t":80.5},{"c":"D2","w":1140,"t":80.9},{"c":"D2","w":1130,"t":81.1},{"c":"D2","w":1120,"t":81.3},{"c":"D2","w":1110,"t":81.4},{"c":"D2","w":1100,"t":81.0},{"c":"D2","w":1090,"t":80.2},{"c":"D2","w":1085,"t":80.9},{"c":"D2","w":1080,"t":81.6},{"c":"D2","w":1070,"t":81.9},{"c":"D2","w":1065,"t":81.7},{"c":"D2","w":1058,"t":79.8},{"c":"D2","w":1053,"t":78.5},{"c":"D2","w":1048,"t":79.8},{"c":"D2","w":1042,"t":81.0},{"c":"D2","w":1035,"t":81.3},{"c":"D2","w":1025,"t":81.3},{"c":"D2","w":1015,"t":81.2},{"c":"D2","w":1008,"t":81.2},{"c":"D2","w":1002,"t":81.1}
],
"h1":[
{"c":"N1","w":3700,"t":99.8},{"c":"N1","w":3650,"t":99.7},{"c":"N1","w":3600,"t":99.6},{"c":"N1","w":3550,"t":99.5},{"c":"N1","w":3500,"t":99.3},{"c":"N1","w":3475,"t":98.9},{"c":"N1","w":3450,"t":98.3},{"c":"N1","w":3425,"t":97.3},{"c":"N1","w":3400,"t":95.8},{"c":"N1","w":3375,"t":94.0},{"c":"N1","w":3350,"t":92.5},{"c":"N1","w":3325,"t":91.4},{"c":"N1","w":3300,"t":91.0},{"c":"N1","w":3275,"t":91.6},{"c":"N1","w":3250,"t":93.3},{"c":"N1","w":3225,"t":94.8},{"c":"N1","w":3200,"t":96.0},{"c":"N1","w":3150,"t":97.1},{"c":"N1","w":3100,"t":97.6},{"c":"N1","w":3050,"t":97.7},{"c":"N1","w":3025,"t":97.6},{"c":"N1","w":3012,"t":97.0},{"c":"N1","w":3005,"t":94},{"c":"N1","w":2998,"t":88},{"c":"N1","w":2992,"t":85},{"c":"N1","w":2986,"t":86.5},{"c":"N1","w":2980,"t":90},{"c":"N1","w":2974,"t":92.0},{"c":"N1","w":2968,"t":91},{"c":"N1","w":2962,"t":89.5},{"c":"N1","w":2955,"t":88.5},{"c":"N1","w":2948,"t":87.5},{"c":"N1","w":2940,"t":86.5},{"c":"N1","w":2932,"t":84.5},{"c":"N1","w":2924,"t":82.5},{"c":"N1","w":2918,"t":81.5},{"c":"N1","w":2912,"t":82.5},{"c":"N1","w":2906,"t":86},{"c":"N1","w":2900,"t":89},{"c":"N1","w":2890,"t":93},{"c":"N1","w":2880,"t":95.0},{"c":"N1","w":2860,"t":96.2},{"c":"N1","w":2840,"t":96.8},{"c":"N1","w":2800,"t":97.6},{"c":"N1","w":2750,"t":98.4},{"c":"N1","w":2700,"t":99.0},{"c":"N1","w":2650,"t":99.5},
{"c":"D1","w":3700,"t":84.6},{"c":"D1","w":3650,"t":82.8},{"c":"D1","w":3600,"t":81.0},{"c":"D1","w":3550,"t":79.2},{"c":"D1","w":3500,"t":77.3},{"c":"D1","w":3450,"t":75.6},{"c":"D1","w":3400,"t":74.0},{"c":"D1","w":3350,"t":72.1},{"c":"D1","w":3320,"t":70.2},{"c":"D1","w":3300,"t":69.5},{"c":"D1","w":3280,"t":69.8},{"c":"D1","w":3250,"t":70.8},{"c":"D1","w":3200,"t":72.2},{"c":"D1","w":3150,"t":73.8},{"c":"D1","w":3100,"t":75.1},{"c":"D1","w":3050,"t":76.4},{"c":"D1","w":3020,"t":77.3},{"c":"D1","w":3005,"t":77.6},{"c":"D1","w":2998,"t":75},{"c":"D1","w":2992,"t":72.8},{"c":"D1","w":2986,"t":74},{"c":"D1","w":2980,"t":77.5},{"c":"D1","w":2974,"t":76.8},{"c":"D1","w":2968,"t":74},{"c":"D1","w":2962,"t":77.5},{"c":"D1","w":2955,"t":77},{"c":"D1","w":2950,"t":74.5},{"c":"D1","w":2944,"t":76.8},{"c":"D1","w":2938,"t":77},{"c":"D1","w":2932,"t":75.5},{"c":"D1","w":2925,"t":74},{"c":"D1","w":2918,"t":73},{"c":"D1","w":2912,"t":73.3},{"c":"D1","w":2906,"t":75},{"c":"D1","w":2900,"t":77.6},{"c":"D1","w":2890,"t":78.6},{"c":"D1","w":2880,"t":79.2},{"c":"D1","w":2850,"t":80.4},{"c":"D1","w":2800,"t":81.2},{"c":"D1","w":2750,"t":81.9},{"c":"D1","w":2700,"t":82.5},{"c":"D1","w":2650,"t":83.1},
{"c":"D2","w":3700,"t":82.5},{"c":"D2","w":3650,"t":81.0},{"c":"D2","w":3600,"t":79.5},{"c":"D2","w":3550,"t":77.8},{"c":"D2","w":3500,"t":76.0},{"c":"D2","w":3450,"t":74.6},{"c":"D2","w":3400,"t":73.5},{"c":"D2","w":3350,"t":71.8},{"c":"D2","w":3320,"t":70.0},{"c":"D2","w":3300,"t":69.2},{"c":"D2","w":3280,"t":69.4},{"c":"D2","w":3250,"t":70.2},{"c":"D2","w":3200,"t":71.8},{"c":"D2","w":3150,"t":73.3},{"c":"D2","w":3100,"t":74.6},{"c":"D2","w":3050,"t":75.9},{"c":"D2","w":3020,"t":76.8},{"c":"D2","w":3005,"t":77.0},{"c":"D2","w":2998,"t":74.5},{"c":"D2","w":2992,"t":72.3},{"c":"D2","w":2986,"t":73.5},{"c":"D2","w":2980,"t":76.8},{"c":"D2","w":2974,"t":76.2},{"c":"D2","w":2968,"t":73.6},{"c":"D2","w":2962,"t":76.8},{"c":"D2","w":2955,"t":76.4},{"c":"D2","w":2950,"t":74.0},{"c":"D2","w":2944,"t":76.2},{"c":"D2","w":2938,"t":76.4},{"c":"D2","w":2932,"t":75.0},{"c":"D2","w":2925,"t":73.5},{"c":"D2","w":2918,"t":72.5},{"c":"D2","w":2912,"t":72.8},{"c":"D2","w":2906,"t":74.4},{"c":"D2","w":2900,"t":76.8},{"c":"D2","w":2890,"t":77.8},{"c":"D2","w":2880,"t":78.3},{"c":"D2","w":2850,"t":79.3},{"c":"D2","w":2800,"t":80.0},{"c":"D2","w":2750,"t":80.6},{"c":"D2","w":2700,"t":81.0},{"c":"D2","w":2650,"t":81.4}
],
"h2":[
{"c":"N1","w":1798,"t":99.8},{"c":"N1","w":1790,"t":99.7},{"c":"N1","w":1780,"t":99.6},{"c":"N1","w":1770,"t":99.5},{"c":"N1","w":1760,"t":99.2},{"c":"N1","w":1750,"t":98.2},{"c":"N1","w":1745,"t":97.3},{"c":"N1","w":1740,"t":96.2},{"c":"N1","w":1735,"t":94.2},{"c":"N1","w":1730,"t":91.8},{"c":"N1","w":1725,"t":89.6},{"c":"N1","w":1720,"t":88.0},{"c":"N1","w":1715,"t":87.5},{"c":"N1","w":1710,"t":87.4},{"c":"N1","w":1700,"t":87.6},{"c":"N1","w":1690,"t":88.6},{"c":"N1","w":1680,"t":89.1},{"c":"N1","w":1670,"t":88.6},{"c":"N1","w":1660,"t":87.3},{"c":"N1","w":1655,"t":86.2},{"c":"N1","w":1650,"t":84.9},{"c":"N1","w":1645,"t":82.5},{"c":"N1","w":1640,"t":80.0},{"c":"N1","w":1636,"t":77.8},{"c":"N1","w":1632,"t":78.2},{"c":"N1","w":1628,"t":80.5},{"c":"N1","w":1624,"t":83.5},{"c":"N1","w":1620,"t":85.8},{"c":"N1","w":1615,"t":87.7},{"c":"N1","w":1610,"t":87.2},{"c":"N1","w":1605,"t":85.3},{"c":"N1","w":1600,"t":83.0},{"c":"N1","w":1595,"t":81.2},{"c":"N1","w":1590,"t":80.2},{"c":"N1","w":1585,"t":80.3},{"c":"N1","w":1580,"t":82.8},{"c":"N1","w":1575,"t":85.5},{"c":"N1","w":1570,"t":87.4},{"c":"N1","w":1566,"t":86.8},{"c":"N1","w":1562,"t":84.8},{"c":"N1","w":1556,"t":80.5},{"c":"N1","w":1550,"t":76.1},{"c":"N1","w":1545,"t":73.0},{"c":"N1","w":1540,"t":70.7},{"c":"N1","w":1535,"t":68.8},{"c":"N1","w":1530,"t":67.4},{"c":"N1","w":1525,"t":65.6},{"c":"N1","w":1520,"t":65.8},{"c":"N1","w":1515,"t":67.5},{"c":"N1","w":1510,"t":70.0},{"c":"N1","w":1505,"t":72.5},{"c":"N1","w":1500,"t":73.8},{"c":"N1","w":1495,"t":73.8},{"c":"N1","w":1490,"t":75.5},{"c":"N1","w":1485,"t":77.4},{"c":"N1","w":1480,"t":78.3},{"c":"N1","w":1475,"t":77.7},{"c":"N1","w":1470,"t":76.5},{"c":"N1","w":1465,"t":76.3},{"c":"N1","w":1460,"t":77.4},{"c":"N1","w":1456,"t":77.0},{"c":"N1","w":1452,"t":75.0},
{"c":"D1","w":1798,"t":83.0},{"c":"D1","w":1790,"t":82.9},{"c":"D1","w":1780,"t":82.5},{"c":"D1","w":1770,"t":81.9},{"c":"D1","w":1760,"t":81.1},{"c":"D1","w":1750,"t":79.8},{"c":"D1","w":1740,"t":77.8},{"c":"D1","w":1735,"t":75.8},{"c":"D1","w":1730,"t":73.5},{"c":"D1","w":1725,"t":70.8},{"c":"D1","w":1720,"t":68.3},{"c":"D1","w":1715,"t":65.5},{"c":"D1","w":1710,"t":63.6},{"c":"D1","w":1705,"t":62.6},{"c":"D1","w":1700,"t":62.2},{"c":"D1","w":1690,"t":61.9},{"c":"D1","w":1680,"t":61.7},{"c":"D1","w":1670,"t":61.5},{"c":"D1","w":1660,"t":61.25},{"c":"D1","w":1650,"t":60.2},{"c":"D1","w":1645,"t":59.3},{"c":"D1","w":1640,"t":58.4},{"c":"D1","w":1635,"t":59.5},{"c":"D1","w":1630,"t":61.2},{"c":"D1","w":1625,"t":62.4},{"c":"D1","w":1620,"t":62.2},{"c":"D1","w":1615,"t":61.3},{"c":"D1","w":1610,"t":60.3},{"c":"D1","w":1605,"t":58.8},{"c":"D1","w":1600,"t":57.6},{"c":"D1","w":1595,"t":57.8},{"c":"D1","w":1590,"t":58.6},{"c":"D1","w":1585,"t":60.5},{"c":"D1","w":1580,"t":61.7},{"c":"D1","w":1575,"t":61.4},{"c":"D1","w":1570,"t":60.4},{"c":"D1","w":1565,"t":58.5},{"c":"D1","w":1560,"t":56.5},{"c":"D1","w":1555,"t":55.0},{"c":"D1","w":1550,"t":53.7},{"c":"D1","w":1545,"t":52.0},{"c":"D1","w":1540,"t":50.9},{"c":"D1","w":1535,"t":50.6},{"c":"D1","w":1530,"t":50.8},{"c":"D1","w":1525,"t":51.6},{"c":"D1","w":1520,"t":52.6},{"c":"D1","w":1515,"t":54.2},{"c":"D1","w":1510,"t":55.6},{"c":"D1","w":1505,"t":56.3},{"c":"D1","w":1500,"t":56.6},{"c":"D1","w":1495,"t":57.2},{"c":"D1","w":1490,"t":57.7},{"c":"D1","w":1485,"t":58.6},{"c":"D1","w":1480,"t":58.9},{"c":"D1","w":1475,"t":58.2},{"c":"D1","w":1470,"t":57.4},{"c":"D1","w":1465,"t":57.3},{"c":"D1","w":1460,"t":57.9},{"c":"D1","w":1456,"t":57.5},{"c":"D1","w":1452,"t":55.5},
{"c":"D2","w":1798,"t":81.0},{"c":"D2","w":1790,"t":80.9},{"c":"D2","w":1780,"t":80.5},{"c":"D2","w":1770,"t":80.0},{"c":"D2","w":1760,"t":79.3},{"c":"D2","w":1750,"t":78.0},{"c":"D2","w":1740,"t":76.0},{"c":"D2","w":1735,"t":74.1},{"c":"D2","w":1730,"t":72.0},{"c":"D2","w":1725,"t":69.2},{"c":"D2","w":1720,"t":66.5},{"c":"D2","w":1715,"t":63.6},{"c":"D2","w":1710,"t":61.5},{"c":"D2","w":1705,"t":60.4},{"c":"D2","w":1700,"t":60.0},{"c":"D2","w":1690,"t":59.7},{"c":"D2","w":1680,"t":59.5},{"c":"D2","w":1670,"t":59.3},{"c":"D2","w":1660,"t":59.0},{"c":"D2","w":1650,"t":58.2},{"c":"D2","w":1645,"t":57.5},{"c":"D2","w":1640,"t":56.8},{"c":"D2","w":1635,"t":57.9},{"c":"D2","w":1630,"t":59.5},{"c":"D2","w":1625,"t":61.2},{"c":"D2","w":1620,"t":61.5},{"c":"D2","w":1615,"t":60.4},{"c":"D2","w":1610,"t":59.0},{"c":"D2","w":1605,"t":57.4},{"c":"D2","w":1600,"t":56.0},{"c":"D2","w":1595,"t":56.2},{"c":"D2","w":1590,"t":57.0},{"c":"D2","w":1585,"t":59.2},{"c":"D2","w":1580,"t":61.5},{"c":"D2","w":1575,"t":61.0},{"c":"D2","w":1570,"t":59.5},{"c":"D2","w":1565,"t":57.3},{"c":"D2","w":1560,"t":55.0},{"c":"D2","w":1555,"t":53.2},{"c":"D2","w":1550,"t":51.5},{"c":"D2","w":1545,"t":50.0},{"c":"D2","w":1540,"t":49.0},{"c":"D2","w":1535,"t":48.6},{"c":"D2","w":1530,"t":48.7},{"c":"D2","w":1525,"t":49.5},{"c":"D2","w":1520,"t":50.5},{"c":"D2","w":1515,"t":52.2},{"c":"D2","w":1510,"t":53.5},{"c":"D2","w":1505,"t":54.3},{"c":"D2","w":1500,"t":55.0},{"c":"D2","w":1495,"t":55.8},{"c":"D2","w":1490,"t":56.5},{"c":"D2","w":1485,"t":57.8},{"c":"D2","w":1480,"t":58.8},{"c":"D2","w":1475,"t":57.6},{"c":"D2","w":1470,"t":56.5},{"c":"D2","w":1465,"t":56.6},{"c":"D2","w":1460,"t":57.0},{"c":"D2","w":1456,"t":56.4},{"c":"D2","w":1452,"t":54.0}
]
}
}
